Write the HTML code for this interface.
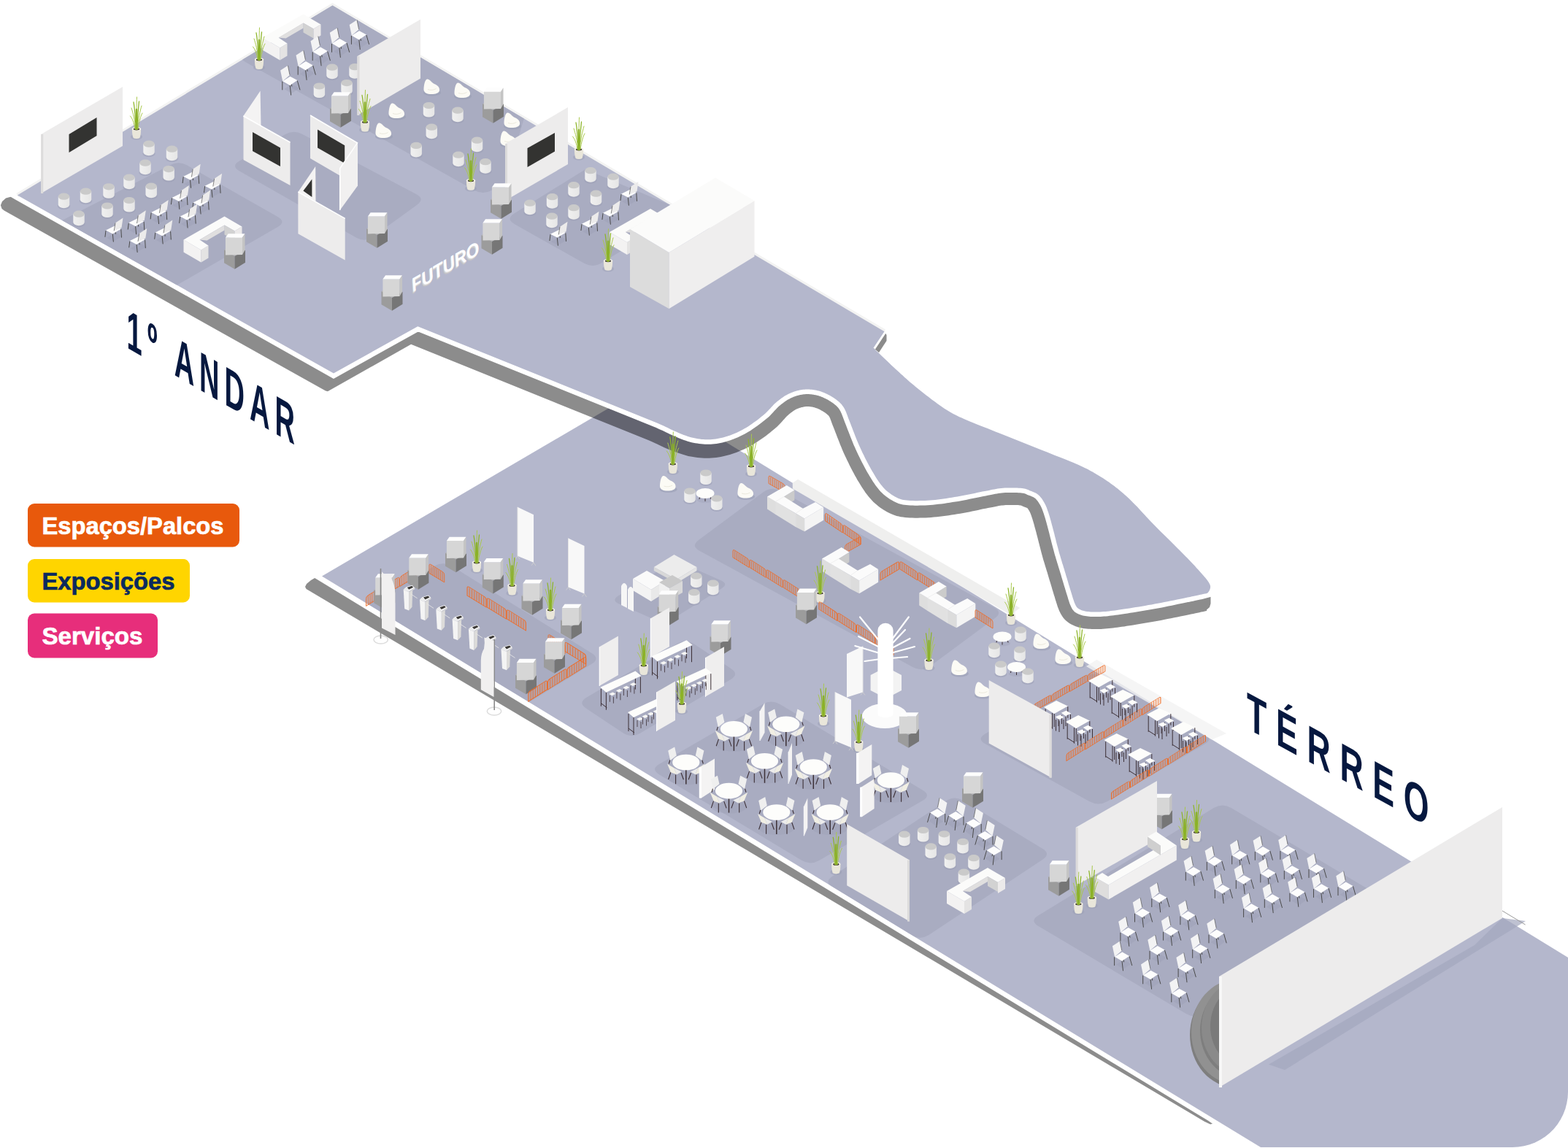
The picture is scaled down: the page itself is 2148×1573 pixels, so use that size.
<!DOCTYPE html>
<html lang="pt-BR"><head><meta charset="utf-8"><title>Mapa</title>
<style>html,body{margin:0;padding:0;background:#fff}svg{display:block}</style></head>
<body><svg width="2148" height="1573" viewBox="0 0 2148 1573">
<defs>
<linearGradient id="gs" x1="0" x2="1" y1="0" y2="0"><stop offset="0" stop-color="#f0f0f0"/><stop offset="1" stop-color="#e6e6e6"/></linearGradient>
<g id="stool"><ellipse cx="0" cy="7.5" rx="8.6" ry="4.6" fill="#9a9eb4" opacity=".55"/><path d="M-7.7 -5.8V5.6A7.7 4.6 0 0 0 7.7 5.6V-5.8Z" fill="url(#gs)"/><ellipse cx="0" cy="-5.8" rx="7.7" ry="4.6" fill="#cacaca"/></g>
<g id="chL"><path d="M-11 9 L2 2 L11 7 L-2 14Z" fill="#9a9eb4" opacity=".4" transform="translate(1 2)"/><path d="M-11 1.2L-12.1 10 M-1.7 5.6L-.6 16.7 M9.8 -.7L10.5 10.8 M1.5 -5L2.3 6" stroke="#4a4a4a" stroke-width="1" fill="none"/><path d="M-11 .8L1.5 -5.5L9.8 -1.1L-1.7 5.6Z" fill="#fdfdfd"/><path d="M2 -9.2L12.5 -16.3L10.5 -2.7L.2 1.5Z" fill="#ecebeb"/><path d="M2 -9.2L.2 1.5" stroke="#555" stroke-width=".7"/></g>
<g id="chR"><path d="M-10 9L0 2L10 8L0 15Z" fill="#9a9eb4" opacity=".4" transform="translate(2 3)"/><path d="M-10.7 1.5V13.3 M-.3 7L1.2 20.5 M9.8 .5L13.5 13.3 M0 -4.5L2.3 8.5" stroke="#4a4a4a" stroke-width="1" fill="none"/><path d="M-10.3 1.2L0 -5.3L9.8 .1L-.3 7Z" fill="#fdfdfd"/><path d="M-13.4 -13.6L-3.1 -20.2L-.5 -7.3L-10.3 1.2Z" fill="#f3f3f4"/><path d="M-3.1 -20.2L-.5 -7.3" stroke="#555" stroke-width=".7"/></g>
<g id="plant"><ellipse cx="0" cy="-2.5" rx="8" ry="4" fill="#9a9eb4" opacity=".5"/><path d="M-6.1 -13.5C-6.1 -6 -5 -1.5 -4 -.8A4.6 1.6 0 0 0 4 -.8C5 -1.5 6.1 -6 6.1 -13.5Z" fill="#e9e6da"/><ellipse cx="0" cy="-13.5" rx="6.1" ry="2.6" fill="#f3f1e8"/><ellipse cx="0" cy="-13.2" rx="4.2" ry="1.6" fill="#3b3033"/>
<g fill="none" stroke-linecap="round"><path d="M-1 -13C-2 -25 -5 -36 -7 -42 M1 -13C2 -26 5 -38 7 -45 M0 -13C0 -30 0 -48 .5 -57 M-2 -13C-3 -22 -6 -28 -8.5 -31 M2 -13C3.5 -24 6 -32 8 -35" stroke="#a9c94c" stroke-width="1"/><path d="M-.8 -13C-1.5 -28 -2.5 -42 -4 -50 M.8 -13C1.5 -30 2.5 -42 3.5 -51" stroke="#8db52a" stroke-width="1.3"/><path d="M0 -13V-40" stroke="#8bb128" stroke-width="2.4"/></g></g>
<g id="totem"><path d="M0 22.3L14.5 14L29 22.7L14.5 31Z" fill="#b4b4b4"/><path d="M0 22.3L14.5 31V48.8L0 40.2Z" fill="#9c9c9c"/><path d="M14.5 31L29 22.7V39.8L14.5 48.8Z" fill="#767676"/><path d="M1.9 5.6H25V29L1.9 29.4Z" fill="#d6d6d6"/><path d="M1.9 5.6L5.6 .2H28.5L25 5.6Z" fill="#fdfdfd"/><path d="M25 5.6L28.5 .2V22.7L25 29Z" fill="#c4c4c4"/></g>
<g id="bean"><ellipse cx="1" cy="8" rx="12" ry="4.5" fill="#9a9eb4" opacity=".6"/><path d="M-6 -10.5C-3 -11.5 0 -6 4 -4C9 -2 11.5 1 11 5C10.5 9 4 10.5 -2 10C-8 9.5 -11 7 -10.5 2C-10 -3 -9 -9.5 -6 -10.5Z" fill="#fcfbf5"/><path d="M-5 3.5C-1 5 3 4.5 6.5 2.5" stroke="#e6e3d6" stroke-width=".8" fill="none"/></g>

<g id="barB" fill="none" stroke="#f26a21" stroke-width=".85"><path d="M0 0V-10Q0 -13 2.6 -14.5L20 -24.4Q22.5 -25.8 22.5 -23V-12.8Z" fill="#f26a21" fill-opacity=".13"/><path d="M2.8 -1.6V-14.2 M5.6 -3.2V-15.8 M8.4 -4.8V-17.4 M11.2 -6.4V-19.0 M14.0 -8.0V-20.6 M16.8 -9.6V-22.2 M19.6 -11.2V-23.8" stroke-width=".7"/></g>
<g id="barA" fill="none" stroke="#f26a21" stroke-width=".85"><path d="M0 0V-10.5Q0 -13.2 2.5 -11.8L20 -1.4Q22.5 0 22.5 3V13Z" fill="#f26a21" fill-opacity=".13"/><path d="M2.8 1.6V-10.8 M5.6 3.2V-9.2 M8.4 4.9V-7.5 M11.2 6.5V-5.9 M14.0 8.1V-4.3 M16.8 9.7V-2.7 M19.6 11.3V-1.1" stroke-width=".7"/></g>
<clipPath id="cg"><polygon points="441.0,789.5 877.0,534.0 2148.0,1311.9 2148.0,1493.0 2148.0,1496.0 2147.6,1503.9 2146.3,1511.8 2144.3,1519.5 2141.4,1526.9 2137.8,1534.0 2133.5,1540.7 2128.5,1546.9 2122.9,1552.5 2116.7,1557.5 2110.0,1561.8 2102.9,1565.4 2095.5,1568.3 2087.8,1570.3 2079.9,1571.6 2072.0,1572.0 1727.0,1572.0"/></clipPath>
<clipPath id="c1"><path d="M23.8 267.5 L457.0 511.5 L572.3 447.2 L900.0 579.4 L905.1 581.7 L909.1 583.5 L912.1 585.0 L914.5 586.1 L916.3 587.0 L917.8 587.8 L919.1 588.4 L920.6 589.1 L922.3 589.9 L924.4 590.8 L926.8 591.8 L929.3 592.9 L931.7 593.9 L934.2 594.9 L936.6 595.9 L939.1 596.8 L941.6 597.7 L944.0 598.5 L946.5 599.2 L948.9 599.8 L951.3 600.3 L953.8 600.8 L956.2 601.2 L958.7 601.6 L961.1 601.9 L963.5 602.1 L966.0 602.2 L968.4 602.3 L970.9 602.3 L973.3 602.2 L975.7 602.0 L978.2 601.8 L980.6 601.5 L983.1 601.1 L985.5 600.6 L988.0 600.1 L990.5 599.5 L992.9 598.8 L995.4 598.1 L997.8 597.3 L1000.2 596.5 L1002.7 595.5 L1005.1 594.6 L1007.6 593.5 L1010.0 592.4 L1012.4 591.2 L1014.9 590.0 L1017.3 588.7 L1019.8 587.3 L1022.2 585.9 L1024.7 584.4 L1027.2 582.7 L1029.8 581.0 L1032.4 579.1 L1035.0 577.3 L1037.5 575.4 L1040.0 573.5 L1042.3 571.6 L1044.6 569.8 L1046.7 568.0 L1048.7 566.3 L1050.5 564.6 L1052.2 562.8 L1053.8 561.1 L1055.3 559.4 L1056.8 557.8 L1058.3 556.2 L1059.8 554.6 L1061.3 553.1 L1062.9 551.7 L1064.5 550.3 L1066.2 549.0 L1067.8 547.7 L1069.4 546.5 L1071.0 545.3 L1072.7 544.2 L1074.3 543.1 L1075.9 542.1 L1077.6 541.2 L1079.2 540.3 L1080.8 539.5 L1082.5 538.7 L1084.1 538.0 L1085.7 537.4 L1087.3 536.8 L1089.0 536.3 L1090.6 535.8 L1092.2 535.3 L1093.9 534.9 L1095.5 534.6 L1097.1 534.3 L1098.8 534.0 L1100.4 533.8 L1102.0 533.7 L1103.7 533.6 L1105.3 533.5 L1106.9 533.5 L1108.5 533.6 L1110.2 533.7 L1111.8 533.8 L1113.4 534.0 L1115.1 534.2 L1116.7 534.5 L1118.3 534.8 L1119.9 535.2 L1121.6 535.6 L1123.2 536.1 L1124.8 536.6 L1126.5 537.2 L1128.1 537.8 L1129.8 538.5 L1131.4 539.2 L1133.1 540.1 L1134.9 540.9 L1136.6 541.8 L1138.2 542.8 L1139.9 543.8 L1141.5 544.8 L1143.0 545.8 L1144.4 546.8 L1145.8 547.8 L1147.0 548.8 L1148.3 549.8 L1149.5 550.8 L1150.6 551.8 L1151.7 552.9 L1152.8 554.1 L1153.8 555.4 L1154.8 556.7 L1155.8 558.2 L1156.7 559.8 L1157.6 561.4 L1158.3 563.1 L1159.1 564.8 L1159.8 566.7 L1160.5 568.6 L1161.3 570.7 L1162.1 572.9 L1163.0 575.3 L1164.0 577.8 L1165.1 580.5 L1166.2 583.5 L1167.4 586.6 L1168.7 589.9 L1170.0 593.3 L1171.3 596.7 L1172.7 600.2 L1174.1 603.7 L1175.5 607.1 L1177.0 610.4 L1178.5 613.7 L1180.0 617.1 L1181.6 620.4 L1183.3 623.8 L1184.9 627.2 L1186.6 630.6 L1188.3 633.8 L1190.0 637.0 L1191.7 640.1 L1193.3 643.0 L1194.9 645.8 L1196.6 648.6 L1198.2 651.3 L1199.8 653.9 L1201.4 656.4 L1203.1 658.9 L1204.7 661.2 L1206.3 663.4 L1208.0 665.5 L1209.6 667.4 L1211.2 669.2 L1212.9 670.9 L1214.5 672.4 L1216.1 673.8 L1217.8 675.1 L1219.4 676.3 L1221.0 677.4 L1222.6 678.5 L1224.3 679.5 L1225.9 680.4 L1227.5 681.3 L1228.9 682.0 L1230.3 682.7 L1231.7 683.3 L1233.1 683.8 L1234.6 684.3 L1236.2 684.7 L1237.9 685.0 L1239.9 685.3 L1242.2 685.6 L1244.7 685.8 L1247.5 686.0 L1250.4 686.1 L1253.5 686.2 L1256.8 686.2 L1260.1 686.1 L1263.6 686.1 L1267.0 685.9 L1270.5 685.7 L1274.0 685.5 L1277.5 685.2 L1281.1 684.9 L1284.8 684.4 L1288.6 684.0 L1292.4 683.5 L1296.2 682.9 L1300.1 682.3 L1303.9 681.7 L1307.7 681.1 L1311.5 680.5 L1315.3 679.8 L1319.2 679.1 L1323.1 678.3 L1327.1 677.5 L1331.0 676.7 L1334.9 675.9 L1338.7 675.1 L1342.3 674.3 L1345.8 673.6 L1349.0 673.0 L1352.0 672.4 L1354.8 671.9 L1357.4 671.3 L1359.9 670.8 L1362.2 670.4 L1364.5 670.0 L1366.8 669.6 L1369.1 669.3 L1371.5 669.0 L1374.0 668.8 L1376.6 668.6 L1379.4 668.5 L1382.2 668.4 L1385.0 668.4 L1387.9 668.4 L1390.6 668.5 L1393.3 668.6 L1395.7 668.7 L1398.0 668.8 L1400.0 669.0 L1401.7 669.2 L1403.2 669.4 L1404.4 669.7 L1405.5 670.0 L1406.5 670.4 L1407.4 670.7 L1408.3 671.1 L1409.2 671.5 L1410.1 672.0 L1411.2 672.4 L1412.3 672.8 L1413.5 673.3 L1414.6 673.7 L1415.8 674.2 L1417.0 674.7 L1418.1 675.3 L1419.2 675.8 L1420.3 676.5 L1421.4 677.2 L1422.4 678.0 L1423.4 678.9 L1424.3 679.8 L1425.2 680.9 L1426.1 681.9 L1427.0 683.1 L1427.8 684.3 L1428.6 685.5 L1429.3 686.7 L1430.1 687.9 L1430.8 689.2 L1431.5 690.5 L1432.1 691.7 L1432.7 693.0 L1433.2 694.3 L1433.8 695.6 L1434.3 697.0 L1434.8 698.4 L1435.3 699.9 L1435.9 701.5 L1436.4 703.1 L1436.9 704.8 L1437.5 706.5 L1438.0 708.2 L1438.5 709.9 L1439.0 711.8 L1439.6 713.7 L1440.1 715.7 L1440.7 717.9 L1441.3 720.2 L1442.0 722.7 L1442.7 725.4 L1443.5 728.4 L1444.3 731.6 L1445.1 734.9 L1446.0 738.3 L1446.8 741.7 L1447.7 745.2 L1448.6 748.5 L1449.5 751.8 L1450.3 754.9 L1451.1 757.9 L1452.0 760.8 L1452.8 763.6 L1453.7 766.4 L1454.5 769.2 L1455.3 771.9 L1456.2 774.6 L1457.0 777.4 L1457.9 780.1 L1458.7 782.9 L1459.6 785.7 L1460.4 788.7 L1461.3 791.6 L1462.2 794.6 L1463.1 797.5 L1463.9 800.4 L1464.8 803.2 L1465.6 805.9 L1466.4 808.5 L1467.1 810.8 L1467.8 813.0 L1468.4 815.0 L1469.0 817.0 L1469.5 818.8 L1470.1 820.5 L1470.6 822.1 L1471.1 823.6 L1471.6 825.0 L1472.2 826.4 L1472.7 827.6 L1473.2 828.7 L1473.7 829.7 L1474.2 830.5 L1474.6 831.3 L1475.1 831.9 L1475.6 832.5 L1476.1 833.1 L1476.7 833.6 L1477.5 834.1 L1478.3 834.6 L1479.2 835.1 L1480.2 835.6 L1481.3 836.0 L1482.4 836.4 L1483.6 836.8 L1484.9 837.1 L1486.3 837.4 L1487.7 837.7 L1489.3 837.9 L1490.9 838.1 L1492.6 838.3 L1494.5 838.4 L1496.4 838.5 L1498.4 838.5 L1500.4 838.5 L1502.6 838.5 L1504.8 838.5 L1507.1 838.4 L1509.5 838.3 L1511.9 838.1 L1514.4 837.9 L1516.8 837.7 L1519.3 837.4 L1521.9 837.1 L1524.6 836.8 L1527.4 836.4 L1530.3 836.0 L1533.3 835.6 L1536.5 835.1 L1539.9 834.6 L1543.5 834.0 L1547.4 833.4 L1551.4 832.8 L1555.7 832.1 L1560.0 831.4 L1564.4 830.7 L1568.8 829.9 L1573.2 829.1 L1577.5 828.4 L1581.8 827.6 L1586.1 826.8 L1590.5 826.0 L1595.0 825.1 L1599.4 824.2 L1603.9 823.3 L1608.3 822.4 L1612.5 821.5 L1616.5 820.7 L1620.3 819.9 L1623.8 819.2 L1627.0 818.5 L1630.1 817.9 L1632.9 817.3 L1635.6 816.7 L1638.1 816.2 L1640.4 815.7 L1642.6 815.2 L1644.6 814.8 L1646.4 814.4 L1648.0 814.0 L1649.4 813.7 L1650.5 813.5 L1651.3 813.4 L1652.0 813.3 L1652.5 813.2 L1653.0 813.1 L1653.3 813.0 L1653.7 812.8 L1654.1 812.6 L1654.5 812.2 L1655.0 811.7 L1655.5 811.1 L1655.9 810.5 L1656.4 809.8 L1656.8 809.0 L1657.1 808.2 L1657.4 807.5 L1657.7 806.7 L1657.9 805.9 L1658.0 805.2 L1658.1 804.5 L1658.1 803.9 L1658.1 803.3 L1658.0 802.7 L1657.8 802.1 L1657.6 801.5 L1657.4 800.8 L1657.0 800.0 L1656.5 799.2 L1656.0 798.3 L1655.4 797.3 L1654.7 796.3 L1654.0 795.3 L1653.2 794.2 L1652.3 793.1 L1651.3 791.8 L1650.1 790.5 L1648.9 789.0 L1647.5 787.4 L1646.0 785.7 L1644.4 783.9 L1642.7 781.9 L1640.9 780.0 L1638.9 777.9 L1636.9 775.6 L1634.7 773.3 L1632.3 770.7 L1629.7 768.0 L1626.9 765.1 L1623.8 761.9 L1620.4 758.4 L1616.5 754.6 L1612.4 750.4 L1608.0 746.1 L1603.5 741.6 L1598.9 737.1 L1594.3 732.6 L1589.9 728.2 L1585.7 724.0 L1581.8 720.0 L1578.1 716.2 L1574.5 712.4 L1571.0 708.7 L1567.6 705.0 L1564.3 701.5 L1561.1 698.0 L1558.0 694.6 L1554.9 691.4 L1551.9 688.4 L1549.0 685.5 L1546.2 682.8 L1543.5 680.3 L1540.9 678.0 L1538.4 675.8 L1536.0 673.7 L1533.6 671.8 L1531.3 669.8 L1528.9 668.0 L1526.5 666.1 L1524.0 664.2 L1521.5 662.4 L1519.0 660.6 L1516.5 658.9 L1514.0 657.2 L1511.5 655.6 L1509.0 654.0 L1506.5 652.4 L1504.0 650.9 L1501.5 649.5 L1499.0 648.0 L1496.6 646.6 L1494.4 645.4 L1492.3 644.2 L1490.2 643.1 L1488.1 642.0 L1485.8 640.9 L1483.3 639.7 L1480.6 638.4 L1477.5 637.0 L1474.0 635.5 L1470.0 633.8 L1465.6 632.0 L1460.8 630.1 L1455.8 628.0 L1450.6 626.0 L1445.2 623.9 L1439.8 621.7 L1434.4 619.6 L1429.1 617.5 L1424.0 615.5 L1419.0 613.5 L1414.0 611.5 L1409.0 609.5 L1404.0 607.5 L1399.0 605.5 L1394.0 603.5 L1389.0 601.5 L1384.0 599.5 L1379.0 597.5 L1374.0 595.5 L1368.9 593.5 L1363.6 591.4 L1358.2 589.3 L1352.8 587.1 L1347.4 585.0 L1342.2 583.0 L1337.2 580.9 L1332.4 579.0 L1328.0 577.2 L1324.0 575.5 L1320.5 574.0 L1317.4 572.6 L1314.7 571.4 L1312.2 570.2 L1309.9 569.1 L1307.8 568.0 L1305.7 566.9 L1303.6 565.7 L1301.4 564.4 L1299.0 563.0 L1296.5 561.5 L1294.0 559.9 L1291.5 558.2 L1289.0 556.5 L1286.5 554.7 L1284.0 552.9 L1281.5 551.1 L1279.0 549.2 L1276.5 547.4 L1274.0 545.5 L1271.5 543.6 L1269.0 541.7 L1266.5 539.8 L1264.0 537.8 L1261.5 535.8 L1259.0 533.8 L1256.5 531.8 L1254.0 529.7 L1251.5 527.6 L1249.0 525.5 L1246.5 523.4 L1244.0 521.2 L1241.6 519.1 L1239.1 516.9 L1236.7 514.6 L1234.2 512.4 L1231.7 510.1 L1229.2 507.8 L1226.6 505.4 L1224.0 503.0 L1221.2 500.4 L1218.2 497.6 L1215.1 494.6 L1211.9 491.5 L1208.7 488.5 L1205.6 485.5 L1202.8 482.8 L1200.3 480.4 L1198.1 478.3 L1196.5 476.8 L1211.5 454.2 L455.5 7.5Z"/></clipPath>

<g id="sofa"><path d="M0 15.6L11.5 22.1V40L0 32.4Z" fill="#dedede"/><path d="M11.5 22.1L38.9 38.5V56.9L11.5 40Z" fill="#e1e1e1"/><path d="M38.9 38.5L51.1 45.4V63.2L38.9 56.9Z" fill="#dcdcdc"/><path d="M51.1 45.4L77.1 30.1V47.7L51.1 63.2Z" fill="#f4f4f4"/><path d="M22.9 15.6L37.4 6.5V20.2L30 25Z" fill="#cbcbcb"/><path d="M0 15.6L26.7 0L37.4 6.5L22.9 15.6L48.9 31.7L66 22.9L77.1 30.1L51.1 45.4Z" fill="#fbfbfb"/><path d="M11.5 22.1L22.9 15.6M38.9 38.5L48.9 31.7M11.5 22.1V40M38.9 38.5V56.9" stroke="#e8e8e8" stroke-width=".6" fill="none"/></g>
<g id="rt"><ellipse cx="0" cy="22" rx="24" ry="9" fill="#9a9eb4" opacity=".35"/><path d="M-22 -3L-23.5 2M22 -3L23.5 2M-20.9 13.8L-24.2 23.5M-14.2 17.1V29.8M-6.7 14.5L-3.4 23.8M20.9 13.8L24.2 23.5M14.2 17.1V29.8M6.7 14.5L3.4 23.8" stroke="#3c3036" stroke-width="1.1" fill="none"/><path d="M0 8V30" stroke="#3c3036" stroke-width="1.5"/><path d="M-24.6 -16L-15.6 -20.9L-13 -9.3L-21.6 -2.6Z M24.6 -16L15.6 -20.9L13 -9.3L21.6 -2.6Z" fill="#efefef"/><path d="M-16.4 7.8L-6 13L-12.7 16.8Z M16.4 7.8L6 13L12.7 16.8Z" fill="#ececec"/><path d="M-25.7 2.2L-16.4 7.8L-12.7 16.8L-20.9 13.8Z M25.7 2.2L16.4 7.8L12.7 16.8L20.9 13.8Z" fill="#f1efe4"/><ellipse cx="0" cy="0" rx="18.6" ry="10.8" fill="#fdfdfb"/></g>
<g id="st"><ellipse cx="0" cy="9" rx="11" ry="4" fill="#9a9eb4" opacity=".35"/><path d="M-7 2L-8 8M7 2L8 8M0 3V11" stroke="#3c3036" stroke-width="1"/><ellipse cx="0" cy="0" rx="12.5" ry="7" fill="#fdfdfb"/></g>
<g id="bis"><path d="M2.2 11.2V32.8M11.5 17.1V38.7M32.8 8.2V23.8M2.2 31.3L11.5 37.2M14.2 18V36 M16.5 26V41.5M21 28V43M27 26V39M20 22V35 M24.5 20V32M30 22V35M36.5 19V31" stroke="#3c3036" stroke-width="1" fill="none"/><path d="M0 8.9L17.1 0L32.8 7.4L14.2 17.9Z" fill="#fdfdfb"/><path d="M15.6 22.3L22.3 19.4L27.6 22.7L20.9 26.1Z M23.8 16.8L30.5 13.8L37.2 17.5L29.8 20.9Z" fill="#fdfdfb"/></g>
<g id="turn"><path d="M0 6L7.5 9.5V34.8L1.5 32.5Z" fill="#f4f4f4"/><path d="M7.5 9.5L12.5 7L11.8 30L7.5 34.8Z" fill="#dcdbd9"/><path d="M3 3L11.8 0L15.4 3.6L7.7 8.2Z" fill="#fafafa"/><path d="M0 6L3 3L7.7 8.2L7.5 9.5Z" fill="#eee"/><path d="M7.7 8.2L15.4 3.6V5.6L7.5 9.5Z" fill="#d8d8d8"/><path d="M5 3.2L11.5 1L13.5 3L7.5 6Z" fill="#3a3836"/><path d="M10 12L19 18" stroke="#e4e4e4" stroke-width=".9"/></g>
<g id="rollA"><path d="M0 0L22 10.5V76L0 67Z" fill="#f8f8f8"/><path d="M0 0V67" stroke="#e4e4e4" stroke-width="1"/><path d="M0 67L-3 71M0 67L3 71.5M22 76L19 80M22 76L25 80.5" stroke="#cfcfcf" stroke-width=".9"/></g>
<g id="rollB"><path d="M0 10.5L22 0V63L0 70Z" fill="#f8f8f8"/><path d="M22 0V63" stroke="#e4e4e4" stroke-width="1"/><path d="M0 70L-3 74M0 70L3 74M22 63L19 67M22 63L25 67" stroke="#cfcfcf" stroke-width=".9"/></g>
<g id="div"><path d="M0 12L6 0V43L.4 55Z" fill="#f4f3f3"/><path d="M0 12V55" stroke="#fff" stroke-width="1"/></g>

<clipPath id="cst"><rect x="1600" y="1300" width="71" height="200"/></clipPath></defs>
<polygon points="431.2,792.0 426.0,795.0 420.0,800.0 418.0,804.0 419.5,807.0 422.5,808.8 1650.0,1536.7 1658.0,1540.4 1661.0,1539.8 1655.0,1535.6" fill="#000" opacity="0.45"/>
<polygon points="441.0,789.5 877.0,534.0 2148.0,1311.9 2148.0,1493.0 2148.0,1496.0 2147.6,1503.9 2146.3,1511.8 2144.3,1519.5 2141.4,1526.9 2137.8,1534.0 2133.5,1540.7 2128.5,1546.9 2122.9,1552.5 2116.7,1557.5 2110.0,1561.8 2102.9,1565.4 2095.5,1568.3 2087.8,1570.3 2079.9,1571.6 2072.0,1572.0 1727.0,1572.0" fill="#B4B7CC" />
<g clip-path="url(#cg)">
<path d="M502.5 827.0L595.3 775.5Q607.5 768.8 619.4 776.1L810.6 895.1Q822.5 902.5 810.5 909.8L725.0 962.0Z" fill="#A9ACC1" />
<path d="M958.3 754.7Q946.0 748.0 957.3 739.7L1045.7 674.3Q1057.0 666.0 1069.3 672.7L1361.7 832.3Q1374.0 839.0 1362.7 847.3L1274.3 912.7Q1263.0 921.0 1250.7 914.3Z" fill="#A9ACC1" />
<path d="M848.0 827.5Q837.0 822.7 847.2 816.3L914.8 774.1Q925.0 767.7 936.0 772.5L987.5 795.2Q998.5 800.0 988.3 806.4L920.7 848.6Q910.5 855.0 899.5 850.2Z" fill="#A9ACC1" />
<path d="M803.1 970.8Q791.4 963.0 803.4 955.8L927.6 882.1Q939.6 874.9 951.3 882.7L1001.3 916.0Q1013.0 923.8 1001.0 931.0L876.8 1004.7Q864.8 1011.9 853.1 1004.1Z" fill="#A9ACC1" />
<path d="M1349.8 1019.3Q1337.5 1012.5 1349.6 1005.4L1482.9 927.1Q1495.0 920.0 1507.3 926.8L1650.2 1005.7Q1662.5 1012.5 1650.4 1019.6L1517.1 1097.9Q1505.0 1105.0 1492.7 1098.2Z" fill="#A9ACC1" />
<path d="M903.0 1061.2Q891.0 1054.0 903.1 1047.0L1044.9 965.0Q1057.0 958.0 1069.0 965.2L1264.0 1082.8Q1276.0 1090.0 1263.9 1097.0L1122.1 1179.0Q1110.0 1186.0 1098.0 1178.8Z" fill="#A9ACC1" />
<path d="M1140.5 1215.8Q1128.5 1208.5 1140.2 1200.8L1296.0 1097.5Q1307.7 1089.8 1319.7 1097.1L1428.0 1162.7Q1440.0 1170.0 1428.3 1177.7L1272.5 1281.0Q1260.8 1288.7 1248.8 1281.4Z" fill="#A9ACC1" />
<path d="M1422.4 1268.9Q1410.4 1261.8 1422.3 1254.5L1662.7 1107.1Q1674.6 1099.8 1686.6 1106.9L1889.0 1226.9Q1901.0 1234.0 1889.1 1241.3L1648.7 1388.7Q1636.8 1396.0 1624.8 1388.9Z" fill="#A9ACC1" />
</g>
<g opacity="0.45">
<path d="M14.3 269.8 L8.0 271.5 L3.0 276.0 L0.9 281.2 L2.5 286.0 L5.7 288.6 L446.0 535.6 L449.0 536.3 L563.1 471.7 L889.2 603.6 L894.2 605.8 L898.0 607.5 L900.8 608.8 L902.8 609.7 L904.4 610.5 L905.9 611.2 L907.6 612.0 L909.5 612.9 L911.8 613.9 L914.2 614.9 L916.7 615.9 L919.2 616.9 L921.8 617.9 L924.5 619.0 L927.3 620.0 L930.2 621.1 L933.2 622.1 L936.4 623.1 L939.6 624.1 L942.9 624.9 L946.1 625.5 L949.2 626.1 L952.2 626.6 L955.4 627.0 L958.5 627.3 L961.7 627.5 L964.9 627.7 L968.1 627.7 L971.3 627.7 L974.6 627.5 L977.9 627.3 L981.1 626.9 L984.3 626.5 L987.4 625.9 L990.6 625.3 L993.7 624.6 L996.7 623.8 L999.8 622.9 L1002.7 622.0 L1005.7 621.0 L1008.7 619.9 L1011.7 618.8 L1014.6 617.6 L1017.6 616.3 L1020.5 614.9 L1023.4 613.5 L1026.3 611.9 L1029.2 610.4 L1032.0 608.7 L1034.9 607.0 L1037.9 605.1 L1040.8 603.1 L1043.8 601.1 L1046.7 599.0 L1049.5 596.9 L1052.3 594.8 L1054.9 592.7 L1057.5 590.6 L1060.0 588.5 L1062.4 586.5 L1065.0 584.2 L1067.4 581.8 L1069.6 579.6 L1071.4 577.5 L1073.1 575.6 L1074.6 574.0 L1075.8 572.6 L1076.8 571.5 L1077.7 570.6 L1078.5 569.7 L1079.7 568.7 L1081.0 567.6 L1082.3 566.6 L1083.5 565.6 L1084.7 564.7 L1085.9 563.8 L1087.0 563.1 L1088.1 562.3 L1089.1 561.7 L1090.1 561.1 L1091.1 560.6 L1092.1 560.2 L1093.0 559.7 L1094.0 559.4 L1095.0 559.0 L1096.0 558.7 L1097.0 558.4 L1098.0 558.1 L1099.0 557.9 L1100.1 557.7 L1101.0 557.5 L1102.0 557.3 L1102.9 557.2 L1103.9 557.1 L1104.8 557.1 L1105.7 557.0 L1106.7 557.0 L1107.6 557.1 L1108.5 557.1 L1109.5 557.2 L1110.5 557.3 L1111.5 557.4 L1112.4 557.6 L1113.4 557.8 L1114.4 558.0 L1115.4 558.3 L1116.4 558.6 L1117.4 558.9 L1118.4 559.2 L1119.4 559.6 L1120.4 560.1 L1121.6 560.6 L1122.8 561.1 L1124.0 561.8 L1125.2 562.4 L1126.4 563.1 L1127.6 563.8 L1128.6 564.5 L1129.6 565.1 L1130.6 565.8 L1131.6 566.6 L1132.6 567.3 L1133.3 567.9 L1133.9 568.4 L1134.4 568.8 L1134.7 569.2 L1135.0 569.5 L1135.3 569.8 L1135.6 570.2 L1135.9 570.7 L1136.2 571.2 L1136.5 571.7 L1136.8 572.5 L1137.3 573.6 L1137.8 575.0 L1138.5 576.8 L1139.2 578.8 L1140.1 581.2 L1141.1 583.8 L1142.2 586.5 L1143.2 589.1 L1144.3 592.0 L1145.5 595.0 L1146.7 598.3 L1148.1 601.7 L1149.5 605.3 L1150.9 609.0 L1152.4 612.6 L1154.0 616.4 L1155.5 620.0 L1157.1 623.5 L1158.8 627.0 L1160.4 630.6 L1162.2 634.1 L1163.9 637.7 L1165.7 641.2 L1167.5 644.7 L1169.3 648.1 L1171.1 651.4 L1172.9 654.6 L1174.6 657.7 L1176.4 660.6 L1178.2 663.6 L1180.0 666.5 L1181.8 669.3 L1183.7 672.1 L1185.6 674.9 L1187.6 677.6 L1189.7 680.3 L1191.9 682.8 L1194.1 685.3 L1196.4 687.7 L1198.7 689.8 L1201.1 691.8 L1203.4 693.7 L1205.7 695.4 L1208.0 697.0 L1210.2 698.4 L1212.4 699.7 L1214.4 700.9 L1216.3 701.9 L1218.3 703.0 L1220.5 704.0 L1222.9 705.1 L1225.5 706.1 L1228.3 706.9 L1231.1 707.6 L1233.9 708.2 L1236.8 708.6 L1239.8 709.0 L1243.0 709.3 L1246.3 709.5 L1249.7 709.6 L1253.3 709.7 L1256.9 709.7 L1260.6 709.6 L1264.3 709.5 L1268.1 709.4 L1271.9 709.2 L1275.7 708.9 L1279.6 708.6 L1283.6 708.2 L1287.6 707.8 L1291.6 707.3 L1295.6 706.7 L1299.6 706.2 L1303.6 705.6 L1307.6 704.9 L1311.5 704.3 L1315.4 703.7 L1319.5 703.0 L1323.6 702.2 L1327.8 701.4 L1331.9 700.5 L1335.9 699.7 L1339.8 698.9 L1343.5 698.1 L1347.0 697.3 L1350.3 696.7 L1353.5 696.1 L1356.5 695.5 L1359.4 694.9 L1362.0 694.4 L1364.4 693.9 L1366.6 693.5 L1368.5 693.1 L1370.4 692.8 L1372.2 692.6 L1374.0 692.4 L1375.8 692.2 L1377.9 692.0 L1380.1 691.9 L1382.6 691.9 L1385.0 691.9 L1387.5 691.9 L1389.9 691.9 L1392.2 692.0 L1394.4 692.1 L1396.2 692.3 L1397.6 692.4 L1398.5 692.5 L1398.8 692.5 L1398.8 692.5 L1398.6 692.5 L1398.3 692.4 L1398.3 692.4 L1398.6 692.5 L1399.5 692.9 L1400.8 693.5 L1402.3 694.2 L1403.8 694.7 L1405.0 695.2 L1406.0 695.6 L1406.8 695.9 L1407.3 696.1 L1407.7 696.3 L1407.8 696.4 L1407.7 696.3 L1407.5 696.1 L1407.2 695.9 L1407.0 695.8 L1407.1 695.9 L1407.3 696.1 L1407.6 696.4 L1407.9 696.9 L1408.4 697.5 L1408.8 698.2 L1409.3 698.9 L1409.8 699.8 L1410.2 700.6 L1410.6 701.2 L1410.9 701.8 L1411.2 702.5 L1411.5 703.3 L1411.9 704.1 L1412.2 705.1 L1412.7 706.3 L1413.1 707.5 L1413.6 709.0 L1414.1 710.5 L1414.6 712.0 L1415.0 713.4 L1415.5 714.9 L1415.9 716.4 L1416.4 718.1 L1416.9 719.9 L1417.4 721.9 L1418.0 724.0 L1418.6 726.3 L1419.3 728.7 L1420.0 731.4 L1420.7 734.2 L1421.5 737.3 L1422.3 740.6 L1423.2 744.0 L1424.1 747.5 L1425.0 751.0 L1425.9 754.5 L1426.8 757.9 L1427.7 761.2 L1428.5 764.3 L1429.4 767.4 L1430.3 770.3 L1431.2 773.2 L1432.0 776.0 L1432.9 778.8 L1433.7 781.6 L1434.6 784.3 L1435.4 787.0 L1436.2 789.7 L1437.0 792.5 L1437.9 795.4 L1438.8 798.3 L1439.7 801.3 L1440.6 804.3 L1441.4 807.2 L1442.3 810.0 L1443.1 812.8 L1443.9 815.4 L1444.7 817.8 L1445.3 819.9 L1445.9 821.9 L1446.5 823.8 L1447.1 825.7 L1447.7 827.6 L1448.3 829.5 L1448.9 831.4 L1449.7 833.4 L1450.5 835.5 L1451.3 837.4 L1452.1 838.9 L1452.8 840.4 L1453.7 842.1 L1454.9 844.0 L1456.4 846.2 L1458.3 848.4 L1460.4 850.5 L1462.6 852.3 L1464.6 853.8 L1466.6 855.0 L1468.6 856.1 L1470.8 857.1 L1472.9 858.0 L1475.1 858.7 L1477.3 859.4 L1479.5 860.0 L1481.7 860.5 L1483.9 860.9 L1486.2 861.2 L1488.5 861.5 L1490.8 861.7 L1493.1 861.8 L1495.5 862.0 L1498.0 862.0 L1500.4 862.0 L1503.0 862.0 L1505.5 862.0 L1508.2 861.9 L1510.9 861.7 L1513.6 861.5 L1516.3 861.3 L1519.1 861.1 L1521.9 860.8 L1524.7 860.5 L1527.6 860.1 L1530.5 859.7 L1533.6 859.3 L1536.7 858.8 L1540.0 858.4 L1543.4 857.8 L1547.1 857.3 L1551.0 856.7 L1555.2 856.0 L1559.4 855.3 L1563.8 854.6 L1568.3 853.8 L1572.8 853.1 L1577.3 852.3 L1581.7 851.5 L1586.1 850.7 L1590.4 849.9 L1594.9 849.0 L1599.5 848.1 L1604.1 847.2 L1608.6 846.3 L1613.0 845.4 L1617.2 844.5 L1621.3 843.7 L1625.1 842.9 L1628.5 842.2 L1631.8 841.5 L1634.9 840.9 L1637.8 840.3 L1640.5 839.7 L1643.1 839.2 L1645.5 838.6 L1647.7 838.2 L1649.7 837.7 L1651.5 837.3 L1653.2 836.9 L1653.0 835.5 L1657.0 832.0 L1658.5 827.0 L1658.5 810.0 L1648.0 814.0 L1646.4 814.4 L1644.6 814.8 L1642.6 815.2 L1640.4 815.7 L1638.1 816.2 L1635.6 816.7 L1632.9 817.3 L1630.1 817.9 L1627.0 818.5 L1623.8 819.2 L1620.3 819.9 L1616.5 820.7 L1612.5 821.5 L1608.3 822.4 L1603.9 823.3 L1599.4 824.2 L1595.0 825.1 L1590.5 826.0 L1586.1 826.8 L1581.8 827.6 L1577.5 828.4 L1573.2 829.1 L1568.8 829.9 L1564.4 830.7 L1560.0 831.4 L1555.7 832.1 L1551.4 832.8 L1547.4 833.4 L1543.5 834.0 L1539.9 834.6 L1536.5 835.1 L1533.3 835.6 L1530.3 836.0 L1527.4 836.4 L1524.6 836.8 L1521.9 837.1 L1519.3 837.4 L1516.8 837.7 L1514.4 837.9 L1511.9 838.1 L1509.5 838.3 L1507.1 838.4 L1504.8 838.5 L1502.6 838.5 L1500.4 838.5 L1498.4 838.5 L1496.4 838.5 L1494.5 838.4 L1492.6 838.3 L1490.9 838.1 L1489.3 837.9 L1487.7 837.7 L1486.3 837.4 L1484.9 837.1 L1483.6 836.8 L1482.4 836.4 L1481.3 836.0 L1480.2 835.6 L1479.2 835.1 L1478.3 834.6 L1477.5 834.1 L1476.7 833.6 L1476.1 833.1 L1475.6 832.5 L1475.1 831.9 L1474.6 831.3 L1474.2 830.5 L1473.7 829.7 L1473.2 828.7 L1472.7 827.6 L1472.2 826.4 L1471.6 825.0 L1471.1 823.6 L1470.6 822.1 L1470.1 820.5 L1469.5 818.8 L1469.0 817.0 L1468.4 815.0 L1467.8 813.0 L1467.1 810.8 L1466.4 808.5 L1465.6 805.9 L1464.8 803.2 L1463.9 800.4 L1463.1 797.5 L1462.2 794.6 L1461.3 791.6 L1460.4 788.7 L1459.6 785.7 L1458.7 782.9 L1457.9 780.1 L1457.0 777.4 L1456.2 774.6 L1455.3 771.9 L1454.5 769.2 L1453.7 766.4 L1452.8 763.6 L1452.0 760.8 L1451.1 757.9 L1450.3 754.9 L1449.5 751.8 L1448.6 748.5 L1447.7 745.2 L1446.8 741.7 L1446.0 738.3 L1445.1 734.9 L1444.3 731.6 L1443.5 728.4 L1442.7 725.4 L1442.0 722.7 L1441.3 720.2 L1440.7 717.9 L1440.1 715.7 L1439.6 713.7 L1439.0 711.8 L1438.5 709.9 L1438.0 708.2 L1437.5 706.5 L1436.9 704.8 L1436.4 703.1 L1435.9 701.5 L1435.3 699.9 L1434.8 698.4 L1434.3 697.0 L1433.8 695.6 L1433.2 694.3 L1432.7 693.0 L1432.1 691.7 L1431.5 690.5 L1430.8 689.2 L1430.1 687.9 L1429.3 686.7 L1428.6 685.5 L1427.8 684.3 L1427.0 683.1 L1426.1 681.9 L1425.2 680.9 L1424.3 679.8 L1423.4 678.9 L1422.4 678.0 L1421.4 677.2 L1420.3 676.5 L1419.2 675.8 L1418.1 675.3 L1417.0 674.7 L1415.8 674.2 L1414.6 673.7 L1413.5 673.3 L1412.3 672.8 L1411.2 672.4 L1410.1 672.0 L1409.2 671.5 L1408.3 671.1 L1407.4 670.7 L1406.5 670.4 L1405.5 670.0 L1404.4 669.7 L1403.2 669.4 L1401.7 669.2 L1400.0 669.0 L1398.0 668.8 L1395.7 668.7 L1393.3 668.6 L1390.6 668.5 L1387.9 668.4 L1385.0 668.4 L1382.2 668.4 L1379.4 668.5 L1376.6 668.6 L1374.0 668.8 L1371.5 669.0 L1369.1 669.3 L1366.8 669.6 L1364.5 670.0 L1362.2 670.4 L1359.9 670.8 L1357.4 671.3 L1354.8 671.9 L1352.0 672.4 L1349.0 673.0 L1345.8 673.6 L1342.3 674.3 L1338.7 675.1 L1334.9 675.9 L1331.0 676.7 L1327.1 677.5 L1323.1 678.3 L1319.2 679.1 L1315.3 679.8 L1311.5 680.5 L1307.7 681.1 L1303.9 681.7 L1300.1 682.3 L1296.2 682.9 L1292.4 683.5 L1288.6 684.0 L1284.8 684.4 L1281.1 684.9 L1277.5 685.2 L1274.0 685.5 L1270.5 685.7 L1267.0 685.9 L1263.6 686.1 L1260.1 686.1 L1256.8 686.2 L1253.5 686.2 L1250.4 686.1 L1247.5 686.0 L1244.7 685.8 L1242.2 685.6 L1239.9 685.3 L1237.9 685.0 L1236.2 684.7 L1234.6 684.3 L1233.1 683.8 L1231.7 683.3 L1230.3 682.7 L1228.9 682.0 L1227.5 681.3 L1225.9 680.4 L1224.3 679.5 L1222.6 678.5 L1221.0 677.4 L1219.4 676.3 L1217.8 675.1 L1216.1 673.8 L1214.5 672.4 L1212.9 670.9 L1211.2 669.2 L1209.6 667.4 L1208.0 665.5 L1206.3 663.4 L1204.7 661.2 L1203.1 658.9 L1201.4 656.4 L1199.8 653.9 L1198.2 651.3 L1196.6 648.6 L1194.9 645.8 L1193.3 643.0 L1191.7 640.1 L1190.0 637.0 L1188.3 633.8 L1186.6 630.6 L1184.9 627.2 L1183.3 623.8 L1181.6 620.4 L1180.0 617.1 L1178.5 613.7 L1177.0 610.4 L1175.5 607.1 L1174.1 603.7 L1172.7 600.2 L1171.3 596.7 L1170.0 593.3 L1168.7 589.9 L1167.4 586.6 L1166.2 583.5 L1165.1 580.5 L1164.0 577.8 L1163.0 575.3 L1162.1 572.9 L1161.3 570.7 L1160.5 568.6 L1159.8 566.7 L1159.1 564.8 L1158.3 563.1 L1157.6 561.4 L1156.7 559.8 L1155.8 558.2 L1154.8 556.7 L1153.8 555.4 L1152.8 554.1 L1151.7 552.9 L1150.6 551.8 L1149.5 550.8 L1148.3 549.8 L1147.0 548.8 L1145.8 547.8 L1144.4 546.8 L1143.0 545.8 L1141.5 544.8 L1139.9 543.8 L1138.2 542.8 L1136.6 541.8 L1134.9 540.9 L1133.1 540.1 L1131.4 539.2 L1129.8 538.5 L1128.1 537.8 L1126.5 537.2 L1124.8 536.6 L1123.2 536.1 L1121.6 535.6 L1119.9 535.2 L1118.3 534.8 L1116.7 534.5 L1115.1 534.2 L1113.4 534.0 L1111.8 533.8 L1110.2 533.7 L1108.5 533.6 L1106.9 533.5 L1105.3 533.5 L1103.7 533.6 L1102.0 533.7 L1100.4 533.8 L1098.8 534.0 L1097.1 534.3 L1095.5 534.6 L1093.9 534.9 L1092.2 535.3 L1090.6 535.8 L1089.0 536.3 L1087.3 536.8 L1085.7 537.4 L1084.1 538.0 L1082.5 538.7 L1080.8 539.5 L1079.2 540.3 L1077.6 541.2 L1075.9 542.1 L1074.3 543.1 L1072.7 544.2 L1071.0 545.3 L1069.4 546.5 L1067.8 547.7 L1066.2 549.0 L1064.5 550.3 L1062.9 551.7 L1061.3 553.1 L1059.8 554.6 L1058.3 556.2 L1056.8 557.8 L1055.3 559.4 L1053.8 561.1 L1052.2 562.8 L1050.5 564.6 L1048.7 566.3 L1046.7 568.0 L1044.6 569.8 L1042.3 571.6 L1040.0 573.5 L1037.5 575.4 L1035.0 577.3 L1032.4 579.1 L1029.8 581.0 L1027.2 582.7 L1024.7 584.4 L1022.2 585.9 L1019.8 587.3 L1017.3 588.7 L1014.9 590.0 L1012.4 591.2 L1010.0 592.4 L1007.6 593.5 L1005.1 594.6 L1002.7 595.5 L1000.2 596.5 L997.8 597.3 L995.4 598.1 L992.9 598.8 L990.5 599.5 L988.0 600.1 L985.5 600.6 L983.1 601.1 L980.6 601.5 L978.2 601.8 L975.7 602.0 L973.3 602.2 L970.9 602.3 L968.4 602.3 L966.0 602.2 L963.5 602.1 L961.1 601.9 L958.7 601.6 L956.2 601.2 L953.8 600.8 L951.3 600.3 L948.9 599.8 L946.5 599.2 L944.0 598.5 L941.6 597.7 L939.1 596.8 L936.6 595.9 L934.2 594.9 L931.7 593.9 L929.3 592.9 L926.8 591.8 L924.4 590.8 L922.3 589.9 L920.6 589.1 L919.1 588.4 L917.8 587.8 L916.3 587.0 L914.5 586.1 L912.1 585.0 L909.1 583.5 L905.1 581.7 L900.0 579.4 L572.3 447.2 L457.0 511.5 L23.8 267.5Z" fill="#000"/>
<path d="M1211.5 454.2 L1196.5 476.8 L1204.0 483.0 L1214.5 467.0 L1214.5 459.0Z" fill="#000"/>
</g>
<path d="M17.0 263.7 L23.8 267.5 L457.0 511.5 L572.3 447.2 L900.0 579.4 L905.1 581.7 L909.1 583.5 L912.1 585.0 L914.5 586.1 L916.3 587.0 L917.8 587.8 L919.1 588.4 L920.6 589.1 L922.3 589.9 L924.4 590.8 L926.8 591.8 L929.3 592.9 L931.7 593.9 L934.2 594.9 L936.6 595.9 L939.1 596.8 L941.6 597.7 L944.0 598.5 L946.5 599.2 L948.9 599.8 L951.3 600.3 L953.8 600.8 L956.2 601.2 L958.7 601.6 L961.1 601.9 L963.5 602.1 L966.0 602.2 L968.4 602.3 L970.9 602.3 L973.3 602.2 L975.7 602.0 L978.2 601.8 L980.6 601.5 L983.1 601.1 L985.5 600.6 L988.0 600.1 L990.5 599.5 L992.9 598.8 L995.4 598.1 L997.8 597.3 L1000.2 596.5 L1002.7 595.5 L1005.1 594.6 L1007.6 593.5 L1010.0 592.4 L1012.4 591.2 L1014.9 590.0 L1017.3 588.7 L1019.8 587.3 L1022.2 585.9 L1024.7 584.4 L1027.2 582.7 L1029.8 581.0 L1032.4 579.1 L1035.0 577.3 L1037.5 575.4 L1040.0 573.5 L1042.3 571.6 L1044.6 569.8 L1046.7 568.0 L1048.7 566.3 L1050.5 564.6 L1052.2 562.8 L1053.8 561.1 L1055.3 559.4 L1056.8 557.8 L1058.3 556.2 L1059.8 554.6 L1061.3 553.1 L1062.9 551.7 L1064.5 550.3 L1066.2 549.0 L1067.8 547.7 L1069.4 546.5 L1071.0 545.3 L1072.7 544.2 L1074.3 543.1 L1075.9 542.1 L1077.6 541.2 L1079.2 540.3 L1080.8 539.5 L1082.5 538.7 L1084.1 538.0 L1085.7 537.4 L1087.3 536.8 L1089.0 536.3 L1090.6 535.8 L1092.2 535.3 L1093.9 534.9 L1095.5 534.6 L1097.1 534.3 L1098.8 534.0 L1100.4 533.8 L1102.0 533.7 L1103.7 533.6 L1105.3 533.5 L1106.9 533.5 L1108.5 533.6 L1110.2 533.7 L1111.8 533.8 L1113.4 534.0 L1115.1 534.2 L1116.7 534.5 L1118.3 534.8 L1119.9 535.2 L1121.6 535.6 L1123.2 536.1 L1124.8 536.6 L1126.5 537.2 L1128.1 537.8 L1129.8 538.5 L1131.4 539.2 L1133.1 540.1 L1134.9 540.9 L1136.6 541.8 L1138.2 542.8 L1139.9 543.8 L1141.5 544.8 L1143.0 545.8 L1144.4 546.8 L1145.8 547.8 L1147.0 548.8 L1148.3 549.8 L1149.5 550.8 L1150.6 551.8 L1151.7 552.9 L1152.8 554.1 L1153.8 555.4 L1154.8 556.7 L1155.8 558.2 L1156.7 559.8 L1157.6 561.4 L1158.3 563.1 L1159.1 564.8 L1159.8 566.7 L1160.5 568.6 L1161.3 570.7 L1162.1 572.9 L1163.0 575.3 L1164.0 577.8 L1165.1 580.5 L1166.2 583.5 L1167.4 586.6 L1168.7 589.9 L1170.0 593.3 L1171.3 596.7 L1172.7 600.2 L1174.1 603.7 L1175.5 607.1 L1177.0 610.4 L1178.5 613.7 L1180.0 617.1 L1181.6 620.4 L1183.3 623.8 L1184.9 627.2 L1186.6 630.6 L1188.3 633.8 L1190.0 637.0 L1191.7 640.1 L1193.3 643.0 L1194.9 645.8 L1196.6 648.6 L1198.2 651.3 L1199.8 653.9 L1201.4 656.4 L1203.1 658.9 L1204.7 661.2 L1206.3 663.4 L1208.0 665.5 L1209.6 667.4 L1211.2 669.2 L1212.9 670.9 L1214.5 672.4 L1216.1 673.8 L1217.8 675.1 L1219.4 676.3 L1221.0 677.4 L1222.6 678.5 L1224.3 679.5 L1225.9 680.4 L1227.5 681.3 L1228.9 682.0 L1230.3 682.7 L1231.7 683.3 L1233.1 683.8 L1234.6 684.3 L1236.2 684.7 L1237.9 685.0 L1239.9 685.3 L1242.2 685.6 L1244.7 685.8 L1247.5 686.0 L1250.4 686.1 L1253.5 686.2 L1256.8 686.2 L1260.1 686.1 L1263.6 686.1 L1267.0 685.9 L1270.5 685.7 L1274.0 685.5 L1277.5 685.2 L1281.1 684.9 L1284.8 684.4 L1288.6 684.0 L1292.4 683.5 L1296.2 682.9 L1300.1 682.3 L1303.9 681.7 L1307.7 681.1 L1311.5 680.5 L1315.3 679.8 L1319.2 679.1 L1323.1 678.3 L1327.1 677.5 L1331.0 676.7 L1334.9 675.9 L1338.7 675.1 L1342.3 674.3 L1345.8 673.6 L1349.0 673.0 L1352.0 672.4 L1354.8 671.9 L1357.4 671.3 L1359.9 670.8 L1362.2 670.4 L1364.5 670.0 L1366.8 669.6 L1369.1 669.3 L1371.5 669.0 L1374.0 668.8 L1376.6 668.6 L1379.4 668.5 L1382.2 668.4 L1385.0 668.4 L1387.9 668.4 L1390.6 668.5 L1393.3 668.6 L1395.7 668.7 L1398.0 668.8 L1400.0 669.0 L1401.7 669.2 L1403.2 669.4 L1404.4 669.7 L1405.5 670.0 L1406.5 670.4 L1407.4 670.7 L1408.3 671.1 L1409.2 671.5 L1410.1 672.0 L1411.2 672.4 L1412.3 672.8 L1413.5 673.3 L1414.6 673.7 L1415.8 674.2 L1417.0 674.7 L1418.1 675.3 L1419.2 675.8 L1420.3 676.5 L1421.4 677.2 L1422.4 678.0 L1423.4 678.9 L1424.3 679.8 L1425.2 680.9 L1426.1 681.9 L1427.0 683.1 L1427.8 684.3 L1428.6 685.5 L1429.3 686.7 L1430.1 687.9 L1430.8 689.2 L1431.5 690.5 L1432.1 691.7 L1432.7 693.0 L1433.2 694.3 L1433.8 695.6 L1434.3 697.0 L1434.8 698.4 L1435.3 699.9 L1435.9 701.5 L1436.4 703.1 L1436.9 704.8 L1437.5 706.5 L1438.0 708.2 L1438.5 709.9 L1439.0 711.8 L1439.6 713.7 L1440.1 715.7 L1440.7 717.9 L1441.3 720.2 L1442.0 722.7 L1442.7 725.4 L1443.5 728.4 L1444.3 731.6 L1445.1 734.9 L1446.0 738.3 L1446.8 741.7 L1447.7 745.2 L1448.6 748.5 L1449.5 751.8 L1450.3 754.9 L1451.1 757.9 L1452.0 760.8 L1452.8 763.6 L1453.7 766.4 L1454.5 769.2 L1455.3 771.9 L1456.2 774.6 L1457.0 777.4 L1457.9 780.1 L1458.7 782.9 L1459.6 785.7 L1460.4 788.7 L1461.3 791.6 L1462.2 794.6 L1463.1 797.5 L1463.9 800.4 L1464.8 803.2 L1465.6 805.9 L1466.4 808.5 L1467.1 810.8 L1467.8 813.0 L1468.4 815.0 L1469.0 817.0 L1469.5 818.8 L1470.1 820.5 L1470.6 822.1 L1471.1 823.6 L1471.6 825.0 L1472.2 826.4 L1472.7 827.6 L1473.2 828.7 L1473.7 829.7 L1474.2 830.5 L1474.6 831.3 L1475.1 831.9 L1475.6 832.5 L1476.1 833.1 L1476.7 833.6 L1477.5 834.1 L1478.3 834.6 L1479.2 835.1 L1480.2 835.6 L1481.3 836.0 L1482.4 836.4 L1483.6 836.8 L1484.9 837.1 L1486.3 837.4 L1487.7 837.7 L1489.3 837.9 L1490.9 838.1 L1492.6 838.3 L1494.5 838.4 L1496.4 838.5 L1498.4 838.5 L1500.4 838.5 L1502.6 838.5 L1504.8 838.5 L1507.1 838.4 L1509.5 838.3 L1511.9 838.1 L1514.4 837.9 L1516.8 837.7 L1519.3 837.4 L1521.9 837.1 L1524.6 836.8 L1527.4 836.4 L1530.3 836.0 L1533.3 835.6 L1536.5 835.1 L1539.9 834.6 L1543.5 834.0 L1547.4 833.4 L1551.4 832.8 L1555.7 832.1 L1560.0 831.4 L1564.4 830.7 L1568.8 829.9 L1573.2 829.1 L1577.5 828.4 L1581.8 827.6 L1586.1 826.8 L1590.5 826.0 L1595.0 825.1 L1599.4 824.2 L1603.9 823.3 L1608.3 822.4 L1612.5 821.5 L1616.5 820.7 L1620.3 819.9 L1623.8 819.2 L1627.0 818.5 L1630.1 817.9 L1632.9 817.3 L1635.6 816.7 L1638.1 816.2 L1640.4 815.7 L1642.6 815.2 L1644.6 814.8 L1646.4 814.4 L1648.0 814.0 L1654.5 812.2 L1658.0 805.2" fill="none" stroke="#fff" stroke-width="13" stroke-linejoin="miter"/>
<path d="M1196.5 476.8 L1211.5 454.2" fill="none" stroke="#fff" stroke-width="6" />
<path d="M23.8 267.5 L455.5 7.5 L1211.5 454.2" fill="none" stroke="#f3f3f2" stroke-width="6" stroke-linejoin="miter"/>
<path d="M23.8 267.5 L457.0 511.5 L572.3 447.2 L900.0 579.4 L905.1 581.7 L909.1 583.5 L912.1 585.0 L914.5 586.1 L916.3 587.0 L917.8 587.8 L919.1 588.4 L920.6 589.1 L922.3 589.9 L924.4 590.8 L926.8 591.8 L929.3 592.9 L931.7 593.9 L934.2 594.9 L936.6 595.9 L939.1 596.8 L941.6 597.7 L944.0 598.5 L946.5 599.2 L948.9 599.8 L951.3 600.3 L953.8 600.8 L956.2 601.2 L958.7 601.6 L961.1 601.9 L963.5 602.1 L966.0 602.2 L968.4 602.3 L970.9 602.3 L973.3 602.2 L975.7 602.0 L978.2 601.8 L980.6 601.5 L983.1 601.1 L985.5 600.6 L988.0 600.1 L990.5 599.5 L992.9 598.8 L995.4 598.1 L997.8 597.3 L1000.2 596.5 L1002.7 595.5 L1005.1 594.6 L1007.6 593.5 L1010.0 592.4 L1012.4 591.2 L1014.9 590.0 L1017.3 588.7 L1019.8 587.3 L1022.2 585.9 L1024.7 584.4 L1027.2 582.7 L1029.8 581.0 L1032.4 579.1 L1035.0 577.3 L1037.5 575.4 L1040.0 573.5 L1042.3 571.6 L1044.6 569.8 L1046.7 568.0 L1048.7 566.3 L1050.5 564.6 L1052.2 562.8 L1053.8 561.1 L1055.3 559.4 L1056.8 557.8 L1058.3 556.2 L1059.8 554.6 L1061.3 553.1 L1062.9 551.7 L1064.5 550.3 L1066.2 549.0 L1067.8 547.7 L1069.4 546.5 L1071.0 545.3 L1072.7 544.2 L1074.3 543.1 L1075.9 542.1 L1077.6 541.2 L1079.2 540.3 L1080.8 539.5 L1082.5 538.7 L1084.1 538.0 L1085.7 537.4 L1087.3 536.8 L1089.0 536.3 L1090.6 535.8 L1092.2 535.3 L1093.9 534.9 L1095.5 534.6 L1097.1 534.3 L1098.8 534.0 L1100.4 533.8 L1102.0 533.7 L1103.7 533.6 L1105.3 533.5 L1106.9 533.5 L1108.5 533.6 L1110.2 533.7 L1111.8 533.8 L1113.4 534.0 L1115.1 534.2 L1116.7 534.5 L1118.3 534.8 L1119.9 535.2 L1121.6 535.6 L1123.2 536.1 L1124.8 536.6 L1126.5 537.2 L1128.1 537.8 L1129.8 538.5 L1131.4 539.2 L1133.1 540.1 L1134.9 540.9 L1136.6 541.8 L1138.2 542.8 L1139.9 543.8 L1141.5 544.8 L1143.0 545.8 L1144.4 546.8 L1145.8 547.8 L1147.0 548.8 L1148.3 549.8 L1149.5 550.8 L1150.6 551.8 L1151.7 552.9 L1152.8 554.1 L1153.8 555.4 L1154.8 556.7 L1155.8 558.2 L1156.7 559.8 L1157.6 561.4 L1158.3 563.1 L1159.1 564.8 L1159.8 566.7 L1160.5 568.6 L1161.3 570.7 L1162.1 572.9 L1163.0 575.3 L1164.0 577.8 L1165.1 580.5 L1166.2 583.5 L1167.4 586.6 L1168.7 589.9 L1170.0 593.3 L1171.3 596.7 L1172.7 600.2 L1174.1 603.7 L1175.5 607.1 L1177.0 610.4 L1178.5 613.7 L1180.0 617.1 L1181.6 620.4 L1183.3 623.8 L1184.9 627.2 L1186.6 630.6 L1188.3 633.8 L1190.0 637.0 L1191.7 640.1 L1193.3 643.0 L1194.9 645.8 L1196.6 648.6 L1198.2 651.3 L1199.8 653.9 L1201.4 656.4 L1203.1 658.9 L1204.7 661.2 L1206.3 663.4 L1208.0 665.5 L1209.6 667.4 L1211.2 669.2 L1212.9 670.9 L1214.5 672.4 L1216.1 673.8 L1217.8 675.1 L1219.4 676.3 L1221.0 677.4 L1222.6 678.5 L1224.3 679.5 L1225.9 680.4 L1227.5 681.3 L1228.9 682.0 L1230.3 682.7 L1231.7 683.3 L1233.1 683.8 L1234.6 684.3 L1236.2 684.7 L1237.9 685.0 L1239.9 685.3 L1242.2 685.6 L1244.7 685.8 L1247.5 686.0 L1250.4 686.1 L1253.5 686.2 L1256.8 686.2 L1260.1 686.1 L1263.6 686.1 L1267.0 685.9 L1270.5 685.7 L1274.0 685.5 L1277.5 685.2 L1281.1 684.9 L1284.8 684.4 L1288.6 684.0 L1292.4 683.5 L1296.2 682.9 L1300.1 682.3 L1303.9 681.7 L1307.7 681.1 L1311.5 680.5 L1315.3 679.8 L1319.2 679.1 L1323.1 678.3 L1327.1 677.5 L1331.0 676.7 L1334.9 675.9 L1338.7 675.1 L1342.3 674.3 L1345.8 673.6 L1349.0 673.0 L1352.0 672.4 L1354.8 671.9 L1357.4 671.3 L1359.9 670.8 L1362.2 670.4 L1364.5 670.0 L1366.8 669.6 L1369.1 669.3 L1371.5 669.0 L1374.0 668.8 L1376.6 668.6 L1379.4 668.5 L1382.2 668.4 L1385.0 668.4 L1387.9 668.4 L1390.6 668.5 L1393.3 668.6 L1395.7 668.7 L1398.0 668.8 L1400.0 669.0 L1401.7 669.2 L1403.2 669.4 L1404.4 669.7 L1405.5 670.0 L1406.5 670.4 L1407.4 670.7 L1408.3 671.1 L1409.2 671.5 L1410.1 672.0 L1411.2 672.4 L1412.3 672.8 L1413.5 673.3 L1414.6 673.7 L1415.8 674.2 L1417.0 674.7 L1418.1 675.3 L1419.2 675.8 L1420.3 676.5 L1421.4 677.2 L1422.4 678.0 L1423.4 678.9 L1424.3 679.8 L1425.2 680.9 L1426.1 681.9 L1427.0 683.1 L1427.8 684.3 L1428.6 685.5 L1429.3 686.7 L1430.1 687.9 L1430.8 689.2 L1431.5 690.5 L1432.1 691.7 L1432.7 693.0 L1433.2 694.3 L1433.8 695.6 L1434.3 697.0 L1434.8 698.4 L1435.3 699.9 L1435.9 701.5 L1436.4 703.1 L1436.9 704.8 L1437.5 706.5 L1438.0 708.2 L1438.5 709.9 L1439.0 711.8 L1439.6 713.7 L1440.1 715.7 L1440.7 717.9 L1441.3 720.2 L1442.0 722.7 L1442.7 725.4 L1443.5 728.4 L1444.3 731.6 L1445.1 734.9 L1446.0 738.3 L1446.8 741.7 L1447.7 745.2 L1448.6 748.5 L1449.5 751.8 L1450.3 754.9 L1451.1 757.9 L1452.0 760.8 L1452.8 763.6 L1453.7 766.4 L1454.5 769.2 L1455.3 771.9 L1456.2 774.6 L1457.0 777.4 L1457.9 780.1 L1458.7 782.9 L1459.6 785.7 L1460.4 788.7 L1461.3 791.6 L1462.2 794.6 L1463.1 797.5 L1463.9 800.4 L1464.8 803.2 L1465.6 805.9 L1466.4 808.5 L1467.1 810.8 L1467.8 813.0 L1468.4 815.0 L1469.0 817.0 L1469.5 818.8 L1470.1 820.5 L1470.6 822.1 L1471.1 823.6 L1471.6 825.0 L1472.2 826.4 L1472.7 827.6 L1473.2 828.7 L1473.7 829.7 L1474.2 830.5 L1474.6 831.3 L1475.1 831.9 L1475.6 832.5 L1476.1 833.1 L1476.7 833.6 L1477.5 834.1 L1478.3 834.6 L1479.2 835.1 L1480.2 835.6 L1481.3 836.0 L1482.4 836.4 L1483.6 836.8 L1484.9 837.1 L1486.3 837.4 L1487.7 837.7 L1489.3 837.9 L1490.9 838.1 L1492.6 838.3 L1494.5 838.4 L1496.4 838.5 L1498.4 838.5 L1500.4 838.5 L1502.6 838.5 L1504.8 838.5 L1507.1 838.4 L1509.5 838.3 L1511.9 838.1 L1514.4 837.9 L1516.8 837.7 L1519.3 837.4 L1521.9 837.1 L1524.6 836.8 L1527.4 836.4 L1530.3 836.0 L1533.3 835.6 L1536.5 835.1 L1539.9 834.6 L1543.5 834.0 L1547.4 833.4 L1551.4 832.8 L1555.7 832.1 L1560.0 831.4 L1564.4 830.7 L1568.8 829.9 L1573.2 829.1 L1577.5 828.4 L1581.8 827.6 L1586.1 826.8 L1590.5 826.0 L1595.0 825.1 L1599.4 824.2 L1603.9 823.3 L1608.3 822.4 L1612.5 821.5 L1616.5 820.7 L1620.3 819.9 L1623.8 819.2 L1627.0 818.5 L1630.1 817.9 L1632.9 817.3 L1635.6 816.7 L1638.1 816.2 L1640.4 815.7 L1642.6 815.2 L1644.6 814.8 L1646.4 814.4 L1648.0 814.0 L1649.4 813.7 L1650.5 813.5 L1651.3 813.4 L1652.0 813.3 L1652.5 813.2 L1653.0 813.1 L1653.3 813.0 L1653.7 812.8 L1654.1 812.6 L1654.5 812.2 L1655.0 811.7 L1655.5 811.1 L1655.9 810.5 L1656.4 809.8 L1656.8 809.0 L1657.1 808.2 L1657.4 807.5 L1657.7 806.7 L1657.9 805.9 L1658.0 805.2 L1658.1 804.5 L1658.1 803.9 L1658.1 803.3 L1658.0 802.7 L1657.8 802.1 L1657.6 801.5 L1657.4 800.8 L1657.0 800.0 L1656.5 799.2 L1656.0 798.3 L1655.4 797.3 L1654.7 796.3 L1654.0 795.3 L1653.2 794.2 L1652.3 793.1 L1651.3 791.8 L1650.1 790.5 L1648.9 789.0 L1647.5 787.4 L1646.0 785.7 L1644.4 783.9 L1642.7 781.9 L1640.9 780.0 L1638.9 777.9 L1636.9 775.6 L1634.7 773.3 L1632.3 770.7 L1629.7 768.0 L1626.9 765.1 L1623.8 761.9 L1620.4 758.4 L1616.5 754.6 L1612.4 750.4 L1608.0 746.1 L1603.5 741.6 L1598.9 737.1 L1594.3 732.6 L1589.9 728.2 L1585.7 724.0 L1581.8 720.0 L1578.1 716.2 L1574.5 712.4 L1571.0 708.7 L1567.6 705.0 L1564.3 701.5 L1561.1 698.0 L1558.0 694.6 L1554.9 691.4 L1551.9 688.4 L1549.0 685.5 L1546.2 682.8 L1543.5 680.3 L1540.9 678.0 L1538.4 675.8 L1536.0 673.7 L1533.6 671.8 L1531.3 669.8 L1528.9 668.0 L1526.5 666.1 L1524.0 664.2 L1521.5 662.4 L1519.0 660.6 L1516.5 658.9 L1514.0 657.2 L1511.5 655.6 L1509.0 654.0 L1506.5 652.4 L1504.0 650.9 L1501.5 649.5 L1499.0 648.0 L1496.6 646.6 L1494.4 645.4 L1492.3 644.2 L1490.2 643.1 L1488.1 642.0 L1485.8 640.9 L1483.3 639.7 L1480.6 638.4 L1477.5 637.0 L1474.0 635.5 L1470.0 633.8 L1465.6 632.0 L1460.8 630.1 L1455.8 628.0 L1450.6 626.0 L1445.2 623.9 L1439.8 621.7 L1434.4 619.6 L1429.1 617.5 L1424.0 615.5 L1419.0 613.5 L1414.0 611.5 L1409.0 609.5 L1404.0 607.5 L1399.0 605.5 L1394.0 603.5 L1389.0 601.5 L1384.0 599.5 L1379.0 597.5 L1374.0 595.5 L1368.9 593.5 L1363.6 591.4 L1358.2 589.3 L1352.8 587.1 L1347.4 585.0 L1342.2 583.0 L1337.2 580.9 L1332.4 579.0 L1328.0 577.2 L1324.0 575.5 L1320.5 574.0 L1317.4 572.6 L1314.7 571.4 L1312.2 570.2 L1309.9 569.1 L1307.8 568.0 L1305.7 566.9 L1303.6 565.7 L1301.4 564.4 L1299.0 563.0 L1296.5 561.5 L1294.0 559.9 L1291.5 558.2 L1289.0 556.5 L1286.5 554.7 L1284.0 552.9 L1281.5 551.1 L1279.0 549.2 L1276.5 547.4 L1274.0 545.5 L1271.5 543.6 L1269.0 541.7 L1266.5 539.8 L1264.0 537.8 L1261.5 535.8 L1259.0 533.8 L1256.5 531.8 L1254.0 529.7 L1251.5 527.6 L1249.0 525.5 L1246.5 523.4 L1244.0 521.2 L1241.6 519.1 L1239.1 516.9 L1236.7 514.6 L1234.2 512.4 L1231.7 510.1 L1229.2 507.8 L1226.6 505.4 L1224.0 503.0 L1221.2 500.4 L1218.2 497.6 L1215.1 494.6 L1211.9 491.5 L1208.7 488.5 L1205.6 485.5 L1202.8 482.8 L1200.3 480.4 L1198.1 478.3 L1196.5 476.8 L1211.5 454.2 L455.5 7.5Z" fill="#B4B7CC"/>
<g clip-path="url(#c1)">
<path d="M85.0 302.0L232.5 226.4Q245.0 220.0 257.2 226.9L380.3 297.1Q392.5 304.0 380.4 311.0L240.0 392.0Z" fill="#A9ACC1" />
<path d="M328.2 234.4Q316.0 227.5 328.1 220.5L389.9 184.5Q402.0 177.5 414.4 184.0L570.1 266.0Q582.5 272.5 571.2 280.7L511.3 324.3Q500.0 332.5 487.8 325.6Z" fill="#A9ACC1" />
<path d="M336.2 84.9Q327.5 80.0 336.1 74.8L460.0 0.0L720.0 155.0L692.0 250.0L674.1 260.4Q662.0 267.5 649.8 260.7Z" fill="#A9ACC1" />
<path d="M704.7 306.9Q692.5 300.0 704.4 292.6L802.0 232.0L940.0 290.0L824.0 360.2Q812.0 367.5 799.8 360.6Z" fill="#A9ACC1" />
</g>
<polygon points="1093.0,656.8 1397.3,833.1 1390.5,838.0 1390.5,846.0 1085.8,669.5 1085.8,661.7" fill="#efefee" />
<polygon points="1502.5,904.0 1680.0,1005.0 1660.0,1013.5 1488.0,913.0" fill="#f2f2f2" opacity=".8"/>
<use href="#chR" x="492.1" y="47.5"/>
<use href="#chR" x="465.2" y="58.4"/>
<polygon points="359.5,68.5 383.5,82.5 383.5,65.5 359.5,51.5" fill="#f3f2f2" /><polygon points="383.5,82.5 393.5,76.5 393.5,59.5 383.5,65.5" fill="#e4e3e3" /><polygon points="359.5,51.5 415.5,19.5 439.5,33.5 429.5,39.5 415.5,31.5 381.5,51.5 393.5,59.5 383.5,65.5" fill="#fbfbfa" /><polygon points="415.5,31.5 429.5,39.5 429.5,52.5 415.5,44.5" fill="#d2d2d2" /><polygon points="429.5,39.5 439.5,33.5 439.5,48.5 429.5,54.5" fill="#eceaea" /><polygon points="381.5,51.5 415.5,31.5 415.5,38.5 391.5,52.5" fill="#e0dfdf" />
<use href="#chR" x="438.9" y="69.8"/>
<use href="#plant" x="355.0" y="95.0"/>
<use href="#stool" x="486.0" y="97.5"/>
<use href="#stool" x="455.0" y="98.0"/>
<use href="#chR" x="418.9" y="89.3"/>
<use href="#bean" x="591.0" y="119.0"/>
<use href="#chR" x="397.5" y="110.0"/>
<use href="#stool" x="475.0" y="119.4"/>
<use href="#bean" x="633.0" y="124.0"/>
<use href="#stool" x="437.4" y="123.8"/>
<polygon points="489.5,158.0 576.0,107.5 576.0,26.5 489.5,77.0" fill="#EDECEC" /><polygon points="489.5,158.0 492.5,158.0 492.5,77.0 489.5,77.0" fill="#dcdbdb" />
<use href="#stool" x="587.5" y="150.3"/>
<use href="#bean" x="543.0" y="152.0"/>
<use href="#stool" x="627.0" y="157.0"/>
<use href="#totem" x="661.0" y="120.0"/>
<use href="#bean" x="701.0" y="165.0"/>
<use href="#totem" x="452.0" y="126.0"/>
<use href="#plant" x="500.0" y="180.5"/>
<use href="#bean" x="525.0" y="179.0"/>
<use href="#stool" x="591.3" y="180.0"/>
<use href="#plant" x="187.0" y="190.0"/>
<use href="#bean" x="696.0" y="190.0"/>
<use href="#stool" x="653.5" y="198.0"/>
<use href="#stool" x="204.0" y="203.0"/>
<use href="#stool" x="570.2" y="205.2"/>
<use href="#plant" x="793.0" y="218.0"/>
<polygon points="333.0,159.4 356.6,124.5 357.5,173.4" fill="#f4f3f3" /><polygon points="333.5,159.0 397.5,195.0 397.5,254.0 333.5,219.0" fill="#EDECEC" /><polygon points="346.0,181.0 384.0,202.5 384.0,228.0 346.0,207.0" fill="#333331" /><path d="M333.5 159L397.5 195" stroke="#fff" stroke-width="1.5"/>
<use href="#stool" x="235.5" y="210.0"/>
<use href="#stool" x="628.0" y="218.0"/>
<use href="#stool" x="665.0" y="227.5"/>
<use href="#stool" x="199.0" y="229.0"/>
<use href="#stool" x="231.2" y="237.4"/>
<use href="#stool" x="809.0" y="239.5"/>
<polygon points="425.0,158.0 489.5,195.8 489.5,254.5 425.0,217.0" fill="#EDECEC" /><polygon points="435.0,177.6 472.2,199.2 472.2,223.8 435.0,202.5" fill="#333331" /><polygon points="465.7,230.8 490.0,195.8 490.0,254.5 465.7,288.0" fill="#f1f0f0" /><path d="M425 158L489.5 195.8L465.7 230.8V288" stroke="#fff" stroke-width="1.5" fill="none"/>
<use href="#stool" x="840.0" y="248.0"/>
<use href="#chL" x="262.2" y="241.0"/>
<use href="#stool" x="177.0" y="249.0"/>
<use href="#plant" x="645.0" y="260.8"/>
<polygon points="56.2,265.0 168.0,200.0 168.0,119.0 56.2,184.0" fill="#EDECEC" /><polygon points="56.2,265.0 59.2,265.0 59.2,184.0 56.2,184.0" fill="#dcdbdb" /><polygon points="94.5,184.0 132.5,161.0 132.5,186.0 94.5,209.0" fill="#333331" />
<use href="#stool" x="786.0" y="259.5"/>
<use href="#stool" x="207.2" y="261.0"/>
<use href="#chL" x="291.6" y="254.0"/>
<use href="#stool" x="149.0" y="261.6"/>
<polygon points="692.0,275.0 778.0,225.0 778.0,147.0 692.0,197.0" fill="#EDECEC" /><polygon points="692.0,275.0 695.0,275.0 695.0,197.0 692.0,197.0" fill="#dcdbdb" /><polygon points="722.5,203.0 760.0,182.0 760.0,207.5 722.5,229.0" fill="#333331" />
<use href="#stool" x="117.5" y="268.0"/>
<use href="#stool" x="816.5" y="271.0"/>
<use href="#chL" x="862.0" y="265.0"/>
<use href="#stool" x="87.5" y="275.0"/>
<use href="#stool" x="756.5" y="275.5"/>
<use href="#chL" x="246.5" y="270.2"/>
<use href="#stool" x="177.0" y="280.3"/>
<use href="#chL" x="275.7" y="276.8"/>
<use href="#stool" x="726.0" y="284.0"/>
<use href="#stool" x="147.0" y="287.8"/>
<use href="#totem" x="672.0" y="251.0"/>
<use href="#stool" x="786.0" y="290.5"/>
<use href="#chL" x="218.2" y="290.3"/>
<use href="#chL" x="837.0" y="291.0"/>
<use href="#stool" x="108.0" y="299.0"/>
<use href="#stool" x="756.0" y="302.0"/>
<use href="#chL" x="257.7" y="295.8"/>
<use href="#chL" x="187.3" y="304.5"/>
<use href="#chL" x="808.0" y="306.0"/>
<use href="#chL" x="156.0" y="314.8"/>
<use href="#chL" x="223.8" y="317.7"/>
<use href="#chL" x="765.0" y="320.0"/>
<use href="#totem" x="502.0" y="291.0"/>
<use href="#chL" x="188.8" y="329.3"/>
<use href="#totem" x="659.5" y="300.0"/>
<polygon points="835.0,335.0 859.0,349.0 859.0,332.0 835.0,318.0" fill="#f3f2f2" /><polygon points="859.0,349.0 869.0,343.0 869.0,326.0 859.0,332.0" fill="#e4e3e3" /><polygon points="835.0,318.0 891.0,286.0 915.0,300.0 905.0,306.0 891.0,298.0 857.0,318.0 869.0,326.0 859.0,332.0" fill="#fbfbfa" /><polygon points="891.0,298.0 905.0,306.0 905.0,319.0 891.0,311.0" fill="#d2d2d2" /><polygon points="905.0,306.0 915.0,300.0 915.0,315.0 905.0,321.0" fill="#eceaea" /><polygon points="857.0,318.0 891.0,298.0 891.0,305.0 867.0,319.0" fill="#e0dfdf" />
<polygon points="408.4,263.0 432.2,228.0 432.5,276.0" fill="#f4f3f3" /><polygon points="415.4,261.5 427.4,245.6 427.4,270.0" fill="#333331" /><polygon points="408.4,263.0 472.7,299.3 472.7,356.6 408.4,320.3" fill="#EDECEC" /><path d="M408.4 263L472.7 299.3" stroke="#fff" stroke-width="1.5"/>
<polygon points="251.5,345.5 275.5,359.5 275.5,342.5 251.5,328.5" fill="#f3f2f2" /><polygon points="275.5,359.5 285.5,353.5 285.5,336.5 275.5,342.5" fill="#e4e3e3" /><polygon points="251.5,328.5 307.5,296.5 331.5,310.5 321.5,316.5 307.5,308.5 273.5,328.5 285.5,336.5 275.5,342.5" fill="#fbfbfa" /><polygon points="307.5,308.5 321.5,316.5 321.5,329.5 307.5,321.5" fill="#d2d2d2" /><polygon points="321.5,316.5 331.5,310.5 331.5,325.5 321.5,331.5" fill="#eceaea" /><polygon points="273.5,328.5 307.5,308.5 307.5,315.5 283.5,329.5" fill="#e0dfdf" />
<use href="#totem" x="307.0" y="320.0"/>
<use href="#plant" x="833.0" y="370.8"/>
<g transform="matrix(0.866 -0.5 0.25 1 566 400)" font-family="'Liberation Sans',sans-serif" font-weight="bold" font-style="italic" font-size="24"><text x="-2" y="2" fill="#c4c4c6" textLength="106" lengthAdjust="spacingAndGlyphs">FUTURO</text><text x="-1" y="1" fill="#d8d8da" textLength="106" lengthAdjust="spacingAndGlyphs">FUTURO</text><text fill="#fff" textLength="106" lengthAdjust="spacingAndGlyphs">FUTURO</text></g>
<polygon points="863.0,314.0 916.5,346.0 916.5,423.0 863.0,393.0" fill="#dcdcdc" /><polygon points="916.5,346.0 1033.5,275.0 1033.5,351.5 916.5,423.0" fill="#efeeee" /><polygon points="863.0,314.0 980.0,243.5 1033.5,275.0 916.5,346.0" fill="#fbfbfa" />
<use href="#totem" x="522.5" y="377.0"/>
<use href="#plant" x="921.8" y="649.0"/>
<use href="#plant" x="1029.0" y="652.0"/>
<use href="#stool" x="967.0" y="653.8"/>
<use href="#bean" x="914.5" y="662.5"/>
<use href="#barA" transform="matrix(0.981 0.064 0 0.85 1053.0 662.5)"/>
<use href="#bean" x="1021.0" y="672.5"/>
<use href="#st" x="966.0" y="676.0"/>
<use href="#stool" x="945.0" y="678.8"/>
<use href="#stool" x="981.8" y="688.8"/>
<use href="#sofa" x="1051.0" y="665.0"/>
<use href="#barA" transform="matrix(1.056 0.226 0 0.85 1130.5 713.8)"/>
<use href="#barA" transform="matrix(1.056 0.226 0 0.85 1155.2 729.9)"/>
<use href="#barB" transform="matrix(0.960 -0.050 0 0.85 1157.5 758.0)"/>
<use href="#barB" transform="matrix(0.988 -0.030 0 1.00 547.8 803.5)"/>
<use href="#rollA" x="709.0" y="694.8"/>
<use href="#barB" transform="matrix(0.988 -0.030 0 1.00 524.7 816.9)"/>
<use href="#barA" transform="matrix(0.981 0.120 0 0.85 1004.0 763.8)"/>
<use href="#totem" x="610.0" y="735.5"/>
<use href="#plant" x="653.0" y="784.0"/>
<use href="#barB" transform="matrix(0.988 -0.030 0 1.00 501.5 830.4)"/>
<use href="#barA" transform="matrix(0.981 0.120 0 0.85 1027.0 777.5)"/>
<use href="#barB" transform="matrix(1.131 -0.183 0 0.85 1206.0 795.0)"/>
<use href="#barA" transform="matrix(1.056 0.176 0 0.85 1233.0 780.0)"/>
<use href="#barA" transform="matrix(0.922 -0.022 0 1.00 588.0 785.4)"/>
<polygon points="895.8,777.0 923.5,760.0 954.5,777.0 926.8,794.0" fill="#ececec" /><polygon points="895.8,777.0 926.8,794.0 926.8,799.0 895.8,782.0" fill="#d8d8d8" /><polygon points="926.8,794.0 954.5,777.0 954.5,782.0 926.8,799.0" fill="#e4e4e4" />
<use href="#stool" x="953.8" y="795.0"/>
<use href="#barA" transform="matrix(0.981 0.120 0 0.85 1050.0 791.2)"/>
<use href="#totem" x="558.4" y="759.0"/>
<use href="#rollA" x="778.5" y="737.5"/>
<use href="#barA" transform="matrix(1.056 0.176 0 0.85 1257.8 795.0)"/>
<use href="#totem" x="660.8" y="764.7"/>
<use href="#sofa" x="1126.0" y="750.0"/>
<use href="#stool" x="976.8" y="805.0"/>
<use href="#plant" x="701.5" y="815.5"/>
<use href="#barA" transform="matrix(0.981 0.120 0 0.85 1073.0 805.0)"/>
<use href="#plant" x="1123.5" y="826.0"/>
<use href="#stool" x="950.8" y="817.5"/>
<use href="#barA" transform="matrix(1.159 0.133 0 1.00 640.0 816.0)"/>
<use href="#totem" x="512.3" y="786.0"/>
<use href="#turn" x="552.7" y="801.8"/>
<use href="#totem" x="714.5" y="794.0"/>
<polygon points="867.0,793.0 886.0,782.0 911.0,796.0 892.0,808.0" fill="#fafafa" /><polygon points="867.0,793.0 892.0,808.0 892.0,824.0 867.0,809.0" fill="#f3f3f3" /><polygon points="892.0,808.0 911.0,796.0 911.0,812.0 892.0,824.0" fill="#e9e9e9" /><polygon points="903.0,798.0 921.0,788.0 935.0,796.0 917.0,806.0" fill="#c9c9c9" /><polygon points="903.0,798.0 917.0,806.0 917.0,822.0 903.0,814.0" fill="#f0f0f0" /><polygon points="917.0,806.0 935.0,796.0 935.0,812.0 917.0,822.0" fill="#d9d9d9" />
<use href="#barA" transform="matrix(1.159 0.133 0 1.00 667.2 832.0)"/>
<use href="#turn" x="575.0" y="815.4"/>
<use href="#plant" x="754.0" y="849.0"/>
<path d="M851 803q4 -8 8 0v30l-8 -4Z M860 808q4 -8 8 0v30l-8 -4Z" fill="#f6f6f6"/>
<use href="#barA" transform="matrix(1.099 0.203 0 0.85 1122.0 835.0)"/>
<use href="#totem" x="1090.0" y="806.4"/>
<use href="#plant" x="1385.0" y="856.0"/>
<use href="#totem" x="900.7" y="809.0"/>
<use href="#sofa" x="1259.2" y="797.0"/>
<use href="#barA" transform="matrix(1.067 0.176 0 0.85 1336.0 846.0)"/>
<use href="#turn" x="597.3" y="829.0"/>
<use href="#barA" transform="matrix(1.159 0.133 0 1.00 694.3 848.0)"/>
<use href="#barA" transform="matrix(1.024 0.044 0 1.00 751.0 882.0)"/>
<use href="#barA" transform="matrix(1.099 0.203 0 0.85 1147.8 850.6)"/>
<use href="#totem" x="768.0" y="827.5"/>
<use href="#turn" x="619.6" y="842.5"/>
<use href="#stool" x="1398.0" y="869.0"/>
<ellipse cx="521.7" cy="876.5" rx="9.7" ry="5.5" fill="#fff" stroke="#dcdcdc" stroke-width="1.5"/><path d="M521.5 779V875" stroke="#8a8a8a" stroke-width="1.6"/><path d="M523 783.3L526.6 786.9L538.9 786.4L536 792Q541 802 541.5 813V869.9L523 860.6Z" fill="#f1f0f0"/>
<use href="#st" x="1373.0" y="872.5"/>
<use href="#barA" transform="matrix(1.099 0.203 0 0.85 1173.5 866.2)"/>
<use href="#bean" x="1426.0" y="879.0"/>
<use href="#turn" x="641.9" y="856.1"/>
<use href="#barA" transform="matrix(1.099 0.203 0 0.85 1199.2 881.9)"/>
<use href="#totem" x="972.5" y="850.0"/>
<use href="#stool" x="1362.0" y="891.0"/>
<polygon points="890.9,847.5 917.0,832.5 917.0,886.0 890.9,901.0" fill="#efeeee" /><path d="M891.4 847.5V901.0" stroke="#fff" stroke-width="1"/>
<use href="#turn" x="664.2" y="869.8"/>
<use href="#barB" transform="matrix(1.056 -0.202 0 0.72 1490.2 933.8)"/>
<use href="#stool" x="1397.0" y="896.0"/>
<use href="#bean" x="1456.0" y="900.0"/>
<use href="#barA" transform="matrix(1.269 0.200 0 1.00 774.0 892.5)"/>
<use href="#plant" x="1479.0" y="914.0"/>
<use href="#turn" x="686.5" y="883.4"/>
<use href="#barB" transform="matrix(1.056 -0.202 0 0.72 1465.5 947.5)"/>
<use href="#plant" x="1272.5" y="918.0"/>
<use href="#totem" x="745.0" y="874.0"/>
<use href="#st" x="1392.5" y="914.0"/>
<use href="#bean" x="1313.8" y="915.0"/>
<path d="M893.5 901.3v24 M900.5 906.3v24 M940.5 880.2v22 M947.5 885.2v22 M893.5 921.3l8 6" stroke="#3c3036" stroke-width="1" fill="none"/><polygon points="892.5,899.3 940.5,877.2 948.5,883.7 900.5,906.3" fill="#fdfdfb" /><path d="M905.5 910.3v9 M910.5 912.3v9" stroke="#3c3036" stroke-width=".8"/><polygon points="904.5,908.3 909.5,906.0 913.5,908.3 908.5,910.8" fill="#f7f7f5" /><path d="M915.0 905.9v9 M920.0 907.9v9" stroke="#3c3036" stroke-width=".8"/><polygon points="914.0,903.9 919.0,901.6 923.0,903.9 918.0,906.4" fill="#f7f7f5" /><path d="M924.5 901.6v9 M929.5 903.6v9" stroke="#3c3036" stroke-width=".8"/><polygon points="923.5,899.6 928.5,897.3 932.5,899.6 927.5,902.1" fill="#f7f7f5" /><path d="M934.0 897.2v9 M939.0 899.2v9" stroke="#3c3036" stroke-width=".8"/><polygon points="933.0,895.2 938.0,892.9 942.0,895.2 937.0,897.7" fill="#f7f7f5" />
<use href="#plant" x="881.8" y="925.0"/>
<use href="#stool" x="1371.0" y="916.0"/>
<use href="#barB" transform="matrix(1.138 -0.153 0 1.00 777.1 928.8)"/>
<use href="#barB" transform="matrix(1.056 -0.202 0 0.72 1440.8 961.2)"/>
<use href="#stool" x="1408.0" y="926.0"/>
<polygon points="820.8,886.6 846.9,871.6 846.9,925.0 820.8,940.0" fill="#efeeee" /><path d="M821.3 886.6V940.0" stroke="#fff" stroke-width="1"/>
<use href="#barB" transform="matrix(1.056 -0.202 0 0.72 1416.0 975.0)"/>
<use href="#barB" transform="matrix(1.138 -0.153 0 1.00 750.4 945.0)"/>
<use href="#totem" x="706.0" y="902.5"/>
<use href="#bean" x="1346.0" y="945.0"/>
<polygon points="966.0,901.3 992.0,886.3 992.0,939.8 966.0,954.8" fill="#efeeee" /><path d="M966.5 901.3V954.8" stroke="#fff" stroke-width="1"/>
<use href="#rollB" x="1160.0" y="885.5"/>
<path d="M927.8 935.6v24 M934.8 940.6v24 M966.8 918.2v22 M973.8 923.2v22 M927.8 955.6l8 6" stroke="#3c3036" stroke-width="1" fill="none"/><polygon points="926.8,933.6 966.8,915.2 974.8,921.7 934.8,940.6" fill="#fdfdfb" /><path d="M939.8 944.6v9 M944.8 946.6v9" stroke="#3c3036" stroke-width=".8"/><polygon points="938.8,942.6 943.8,940.3 947.8,942.6 942.8,945.1" fill="#f7f7f5" /><path d="M947.3 941.1v9 M952.3 943.1v9" stroke="#3c3036" stroke-width=".8"/><polygon points="946.3,939.1 951.3,936.9 955.3,939.1 950.3,941.6" fill="#f7f7f5" /><path d="M954.8 937.7v9 M959.8 939.7v9" stroke="#3c3036" stroke-width=".8"/><polygon points="953.8,935.7 958.8,933.4 962.8,935.7 957.8,938.2" fill="#f7f7f5" /><path d="M962.3 934.2v9 M967.3 936.2v9" stroke="#3c3036" stroke-width=".8"/><polygon points="961.3,932.2 966.3,930.0 970.3,932.2 965.3,934.8" fill="#f7f7f5" />
<use href="#barB" transform="matrix(1.109 -0.290 0 0.72 1565.0 979.5)"/>
<use href="#barB" transform="matrix(1.138 -0.153 0 1.00 723.8 961.2)"/>
<use href="#bis" x="1491.0" y="923.8"/>
<path d="M823.4 943.7v24 M830.4 948.7v24 M870.4 922.6v22 M877.4 927.6v22 M823.4 963.7l8 6" stroke="#3c3036" stroke-width="1" fill="none"/><polygon points="822.4,941.7 870.4,919.6 878.4,926.1 830.4,948.7" fill="#fdfdfb" /><path d="M835.4 952.7v9 M840.4 954.7v9" stroke="#3c3036" stroke-width=".8"/><polygon points="834.4,950.7 839.4,948.4 843.4,950.7 838.4,953.2" fill="#f7f7f5" /><path d="M844.9 948.3v9 M849.9 950.3v9" stroke="#3c3036" stroke-width=".8"/><polygon points="843.9,946.3 848.9,944.0 852.9,946.3 847.9,948.8" fill="#f7f7f5" /><path d="M854.4 944.0v9 M859.4 946.0v9" stroke="#3c3036" stroke-width=".8"/><polygon points="853.4,942.0 858.4,939.7 862.4,942.0 857.4,944.5" fill="#f7f7f5" /><path d="M863.9 939.6v9 M868.9 941.6v9" stroke="#3c3036" stroke-width=".8"/><polygon points="862.9,937.6 867.9,935.3 871.9,937.6 866.9,940.1" fill="#f7f7f5" />
<use href="#barB" transform="matrix(1.109 -0.290 0 0.72 1539.0 995.2)"/>
<use href="#plant" x="934.0" y="977.5"/>
<ellipse cx="677" cy="974.5" rx="9.7" ry="5.5" fill="#fff" stroke="#dcdcdc" stroke-width="1.5"/><path d="M677.2 876V973" stroke="#8a8a8a" stroke-width="1.6"/><path d="M663.4 873.4L676.5 878V955L658.8 945V905Q659 895 663 889Q664.5 881 663.4 873.4Z" fill="#f1f0f0"/>
<use href="#bis" x="1521.0" y="945.0"/>
<polygon points="1192.6,925.0 1214.0,914.0 1235.0,925.0 1235.0,946.0 1214.0,957.0 1192.6,946.0" fill="#f3f3f3" /><path d="M1214 914V957" stroke="#fff" stroke-width=".01"/><ellipse cx="1212" cy="981" rx="31" ry="17" fill="#fbfbfb"/><path d="M1206 880L1178 845.5M1205 887L1176 872M1205 895L1171.4 885M1206 903L1184.5 906M1219 880L1244.8 845.5M1220 884L1240 863M1220 889L1246.5 875M1220 895L1253 886M1220 902L1243 900" stroke="#fff" stroke-width="2.2" stroke-linecap="round" fill="none"/><path d="M1202.4 863.7a10.6 10 0 0 1 21.2 0V979a10.6 4 0 0 1 -21.2 0Z" fill="#fff"/>
<use href="#barB" transform="matrix(1.109 -0.290 0 0.72 1513.0 1011.0)"/>
<use href="#plant" x="1128.0" y="994.0"/>
<use href="#bis" x="1430.0" y="960.0"/>
<path d="M861.0 978.0v24 M868.0 983.0v24 M900.0 960.6v22 M907.0 965.6v22 M861.0 998.0l8 6" stroke="#3c3036" stroke-width="1" fill="none"/><polygon points="860.0,976.0 900.0,957.6 908.0,964.1 868.0,983.0" fill="#fdfdfb" /><path d="M873.0 987.0v9 M878.0 989.0v9" stroke="#3c3036" stroke-width=".8"/><polygon points="872.0,985.0 877.0,982.7 881.0,985.0 876.0,987.5" fill="#f7f7f5" /><path d="M880.5 983.5v9 M885.5 985.5v9" stroke="#3c3036" stroke-width=".8"/><polygon points="879.5,981.5 884.5,979.2 888.5,981.5 883.5,984.0" fill="#f7f7f5" /><path d="M888.0 980.1v9 M893.0 982.1v9" stroke="#3c3036" stroke-width=".8"/><polygon points="887.0,978.1 892.0,975.8 896.0,978.1 891.0,980.6" fill="#f7f7f5" /><path d="M895.5 976.6v9 M900.5 978.6v9" stroke="#3c3036" stroke-width=".8"/><polygon points="894.5,974.6 899.5,972.4 903.5,974.6 898.5,977.1" fill="#f7f7f5" />
<polygon points="899.0,948.6 925.0,933.6 925.0,987.0 899.0,1002.0" fill="#efeeee" /><path d="M899.5 948.6V1002.0" stroke="#fff" stroke-width="1"/>
<use href="#barB" transform="matrix(1.109 -0.290 0 0.72 1487.0 1026.8)"/>
<use href="#bis" x="1571.0" y="970.0"/>
<use href="#div" transform="translate(1041.0 963.0) scale(1.083 0.945)"/>
<use href="#rt" x="1076.8" y="992.3"/>
<use href="#bis" x="1460.0" y="980.0"/>
<use href="#rollA" x="1144.0" y="948.2"/>
<use href="#barB" transform="matrix(1.109 -0.290 0 0.72 1461.0 1042.5)"/>
<use href="#rt" x="1005.4" y="998.8"/>
<use href="#totem" x="1230.0" y="976.0"/>
<use href="#bis" x="1604.0" y="989.0"/>
<use href="#plant" x="1176.3" y="1030.0"/>
<use href="#barB" transform="matrix(1.109 -0.293 0 0.72 1626.5 1031.8)"/>
<use href="#bis" x="1512.5" y="1005.0"/>
<use href="#barB" transform="matrix(1.109 -0.293 0 0.72 1600.5 1047.6)"/>
<use href="#bis" x="1545.0" y="1025.0"/>
<use href="#barB" transform="matrix(1.109 -0.293 0 0.72 1574.5 1063.4)"/>
<polygon points="1354.7,1018.4 1440.5,1065.7 1440.5,979.3 1354.7,932.0" fill="#EDECEC" /><polygon points="1437.5,1065.7 1440.5,1065.7 1440.5,979.3 1437.5,979.3" fill="#dcdbdb" />
<use href="#rt" x="1047.5" y="1042.8"/>
<use href="#rt" x="939.8" y="1044.5"/>
<use href="#div" transform="translate(1080.0 1018.0) scale(0.833 1.018)"/>
<use href="#div" transform="translate(1174.7 1020.0) scale(3.267 0.982)"/>
<use href="#rt" x="1114.3" y="1051.0"/>
<use href="#barB" transform="matrix(1.109 -0.293 0 0.72 1548.5 1079.2)"/>
<use href="#div" transform="translate(959.4 1039.6) scale(3.267 0.982)"/>
<use href="#rt" x="1220.4" y="1069.0"/>
<use href="#barB" transform="matrix(1.109 -0.293 0 0.72 1522.5 1095.0)"/>
<use href="#totem" x="1318.0" y="1058.0"/>
<use href="#rt" x="998.5" y="1083.6"/>
<use href="#div" transform="translate(1179.6 1067.3) scale(3.000 0.945)"/>
<use href="#chR" transform="translate(1284.0 1113.5) scale(-1 1)"/>
<use href="#chR" transform="translate(1309.3 1117.3) scale(-1 1)"/>
<use href="#totem" x="1577.0" y="1087.5"/>
<use href="#rt" x="1063.8" y="1113.0"/>
<use href="#rt" x="1137.2" y="1113.0"/>
<use href="#div" transform="translate(1101.3 1093.4) scale(0.833 0.945)"/>
<use href="#chR" transform="translate(1333.5 1127.5) scale(-1 1)"/>
<use href="#stool" x="1264.6" y="1143.3"/>
<use href="#plant" x="1639.0" y="1153.5"/>
<use href="#stool" x="1293.4" y="1148.6"/>
<use href="#stool" x="1238.8" y="1149.0"/>
<use href="#chR" transform="translate(1349.3 1144.3) scale(-1 1)"/>
<use href="#plant" x="1623.0" y="1163.0"/>
<use href="#stool" x="1319.0" y="1159.2"/>
<use href="#stool" x="1275.2" y="1165.7"/>
<use href="#chR" x="1764.6" y="1164.5"/>
<use href="#chR" transform="translate(1361.4 1164.8) scale(-1 1)"/>
<use href="#chR" x="1730.0" y="1165.4"/>
<use href="#stool" x="1301.4" y="1179.7"/>
<use href="#chR" x="1698.4" y="1171.0"/>
<use href="#stool" x="1333.9" y="1181.5"/>
<use href="#plant" x="1145.3" y="1197.4"/>
<use href="#chR" x="1664.0" y="1179.4"/>
<use href="#chR" x="1803.7" y="1189.6"/>
<use href="#chR" x="1770.0" y="1191.5"/>
<use href="#stool" x="1320.4" y="1201.0"/>
<use href="#chR" x="1635.0" y="1193.3"/>
<polygon points="1473.8,1213.8 1585.0,1150.0 1585.0,1070.0 1473.8,1133.8" fill="#EDECEC" /><polygon points="1473.8,1213.8 1476.8,1213.8 1476.8,1133.8 1473.8,1133.8" fill="#dcdbdb" />
<use href="#chR" x="1737.5" y="1196.0"/>
<use href="#chR" x="1704.0" y="1204.5"/>
<use href="#totem" x="1436.0" y="1179.0"/>
<use href="#chR" x="1843.7" y="1213.8"/>
<polygon points="1500.0,1222.0 1518.6,1232.5 1518.6,1212.5 1500.0,1202.0" fill="#dedddd" /><polygon points="1518.6,1232.5 1611.8,1178.4 1611.8,1158.4 1518.6,1212.5" fill="#f1f0f0" /><polygon points="1500.0,1202.0 1518.6,1212.5 1611.8,1158.4 1584.0,1139.5 1572.0,1146.5 1590.0,1159.0 1518.0,1201.0 1510.0,1196.0" fill="#fbfbfa" /><polygon points="1572.0,1146.5 1590.0,1159.0 1590.0,1172.0 1572.0,1160.0" fill="#cfcfcf" />
<use href="#chR" x="1810.2" y="1216.6"/>
<use href="#chR" x="1675.0" y="1217.6"/>
<use href="#chR" x="1777.6" y="1222.2"/>
<use href="#plant" x="1495.8" y="1243.5"/>
<use href="#chR" x="1588.5" y="1229.7"/>
<use href="#chR" x="1743.0" y="1230.6"/>
<use href="#plant" x="1477.3" y="1252.0"/>
<polygon points="1297.0,1238.0 1321.0,1252.0 1321.0,1235.0 1297.0,1221.0" fill="#f3f2f2" /><polygon points="1321.0,1252.0 1331.0,1246.0 1331.0,1229.0 1321.0,1235.0" fill="#e4e3e3" /><polygon points="1297.0,1221.0 1353.0,1189.0 1377.0,1203.0 1367.0,1209.0 1353.0,1201.0 1319.0,1221.0 1331.0,1229.0 1321.0,1235.0" fill="#fbfbfa" /><polygon points="1353.0,1201.0 1367.0,1209.0 1367.0,1222.0 1353.0,1214.0" fill="#d2d2d2" /><polygon points="1367.0,1209.0 1377.0,1203.0 1377.0,1218.0 1367.0,1224.0" fill="#eceaea" /><polygon points="1319.0,1221.0 1353.0,1201.0 1353.0,1208.0 1329.0,1222.0" fill="#e0dfdf" />
<use href="#chR" x="1714.3" y="1243.6"/>
<polygon points="1160.2,1213.2 1246.0,1262.6 1246.0,1178.6 1160.2,1129.2" fill="#EDECEC" /><polygon points="1243.0,1262.6 1246.0,1262.6 1246.0,1178.6 1243.0,1178.6" fill="#dcdbdb" />
<use href="#chR" x="1565.2" y="1250.2"/>
<use href="#chR" x="1627.6" y="1253.9"/>
<use href="#chR" x="1604.3" y="1275.3"/>
<use href="#chR" x="1545.6" y="1276.3"/>
<use href="#chR" x="1666.7" y="1279.0"/>
<g clip-path="url(#cst)"><ellipse cx="1692" cy="1418" rx="62" ry="72" fill="#7e7e7e"/><ellipse cx="1694" cy="1414" rx="62" ry="72" fill="#919191"/><ellipse cx="1702" cy="1412" rx="58" ry="66" fill="#7e7e7e"/><ellipse cx="1704" cy="1408" rx="58" ry="66" fill="#8a8a8a"/><ellipse cx="1712" cy="1406" rx="54" ry="60" fill="#7a7a7a"/></g>
<polygon points="1738.0,1458.6 2020.0,1295.0 2058.0,1258.0 2090.0,1262.0 1760.0,1466.0" fill="#a3a7bd" opacity=".7"/>
<polygon points="1670.0,1490.0 2058.0,1258.0 2058.0,1106.0 1670.0,1338.0" fill="#EDECEC" /><polygon points="1670.0,1490.0 1674.0,1490.0 1674.0,1338.0 1670.0,1338.0" fill="#f7f7f7" />
<path d="M2058 1248L2089.5 1267" stroke="#9a9a9a" stroke-width="1"/>
<use href="#chR" x="1644.4" y="1299.5"/>
<use href="#chR" x="1585.7" y="1301.4"/>
<use href="#chR" x="1537.3" y="1309.8"/>
<use href="#chR" x="1624.8" y="1325.6"/>
<use href="#chR" x="1576.4" y="1335.0"/>
<use href="#chR" x="1615.5" y="1360.0"/>
<text transform="matrix(0.5 0.29 0 1 173.5 476)" font-family="'Liberation Sans',sans-serif" font-weight="bold" font-size="76" letter-spacing="14" fill="#06183F">1º ANDAR</text>
<text transform="matrix(0.62 0.335 0 1 1708 998)" font-family="'Liberation Sans',sans-serif" font-weight="bold" font-size="72" letter-spacing="20.5" fill="#06183F">TÉRREO</text>
<rect x="38" y="690" width="290" height="59.5" rx="9" fill="#E8590C"/>
<text x="57.5" y="731.75" font-family="'Liberation Sans',sans-serif" font-weight="bold" font-size="33" fill="#fff" stroke="#fff" stroke-width=".7" textLength="249" lengthAdjust="spacingAndGlyphs">Espaços/Palcos</text>
<rect x="38" y="766" width="222" height="59.5" rx="9" fill="#FFD500"/>
<text x="57.5" y="807.75" font-family="'Liberation Sans',sans-serif" font-weight="bold" font-size="33" fill="#0A2A5E" stroke="#0A2A5E" stroke-width=".7" textLength="182" lengthAdjust="spacingAndGlyphs">Exposições</text>
<rect x="38" y="840.5" width="178" height="61" rx="9" fill="#E72E7B"/>
<text x="57.5" y="883" font-family="'Liberation Sans',sans-serif" font-weight="bold" font-size="33" fill="#fff" stroke="#fff" stroke-width=".7" textLength="138" lengthAdjust="spacingAndGlyphs">Serviços</text>
</svg></body></html>
